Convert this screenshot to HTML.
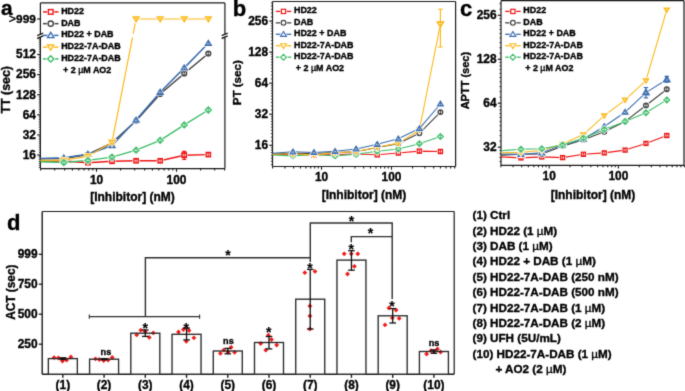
<!DOCTYPE html>
<html><head><meta charset="utf-8"><style>
html,body{margin:0;padding:0;background:#fff;width:685px;height:391px;overflow:hidden}
svg{display:block}
</style></head><body><div id="w">
<svg width="685" height="391" viewBox="0 0 685 391">
<defs><filter id="bl" color-interpolation-filters="sRGB" x="0" y="0" width="685" height="391" filterUnits="userSpaceOnUse"><feConvolveMatrix order="3" kernelMatrix="0.0169 0.0962 0.0169 0.0962 0.5476 0.0962 0.0169 0.0962 0.0169" divisor="1" edgeMode="duplicate" preserveAlpha="true"/></filter></defs>
<rect width="685" height="391" fill="#fff"/>
<g filter="url(#bl)">
<rect width="685" height="391" fill="#fff"/>
<line x1="40.40" y1="2.90" x2="224.90" y2="2.90" stroke="#1a1a1a" stroke-width="1.2" />
<line x1="40.40" y1="168.60" x2="224.90" y2="168.60" stroke="#1a1a1a" stroke-width="1.2" />
<line x1="224.90" y1="2.90" x2="224.90" y2="168.60" stroke="#1a1a1a" stroke-width="1.2" />
<line x1="40.40" y1="2.90" x2="40.40" y2="168.60" stroke="#1a1a1a" stroke-width="1.2" />
<polygon points="37.20,35.70 43.20,33.10 43.20,35.90 37.20,38.50" fill="#fff"/>
<line x1="37.20" y1="35.70" x2="43.20" y2="33.10" stroke="#1a1a1a" stroke-width="1.4" />
<line x1="37.20" y1="38.50" x2="43.20" y2="35.90" stroke="#1a1a1a" stroke-width="1.4" />
<polygon points="221.70,35.70 227.70,33.10 227.70,35.90 221.70,38.50" fill="#fff"/>
<line x1="221.70" y1="35.70" x2="227.70" y2="33.10" stroke="#1a1a1a" stroke-width="1.4" />
<line x1="221.70" y1="38.50" x2="227.70" y2="35.90" stroke="#1a1a1a" stroke-width="1.4" />
<line x1="38.80" y1="167.49" x2="40.40" y2="167.49" stroke="#1a1a1a" stroke-width="0.8" />
<line x1="38.80" y1="165.34" x2="40.40" y2="165.34" stroke="#1a1a1a" stroke-width="0.8" />
<line x1="38.80" y1="163.34" x2="40.40" y2="163.34" stroke="#1a1a1a" stroke-width="0.8" />
<line x1="38.80" y1="161.47" x2="40.40" y2="161.47" stroke="#1a1a1a" stroke-width="0.8" />
<line x1="38.80" y1="159.71" x2="40.40" y2="159.71" stroke="#1a1a1a" stroke-width="0.8" />
<line x1="38.80" y1="158.06" x2="40.40" y2="158.06" stroke="#1a1a1a" stroke-width="0.8" />
<line x1="38.80" y1="156.49" x2="40.40" y2="156.49" stroke="#1a1a1a" stroke-width="0.8" />
<line x1="38.80" y1="152.24" x2="40.40" y2="152.24" stroke="#1a1a1a" stroke-width="0.8" />
<line x1="38.80" y1="149.71" x2="40.40" y2="149.71" stroke="#1a1a1a" stroke-width="0.8" />
<line x1="38.80" y1="147.39" x2="40.40" y2="147.39" stroke="#1a1a1a" stroke-width="0.8" />
<line x1="38.80" y1="145.24" x2="40.40" y2="145.24" stroke="#1a1a1a" stroke-width="0.8" />
<line x1="38.80" y1="143.24" x2="40.40" y2="143.24" stroke="#1a1a1a" stroke-width="0.8" />
<line x1="38.80" y1="141.37" x2="40.40" y2="141.37" stroke="#1a1a1a" stroke-width="0.8" />
<line x1="38.80" y1="139.61" x2="40.40" y2="139.61" stroke="#1a1a1a" stroke-width="0.8" />
<line x1="38.80" y1="137.96" x2="40.40" y2="137.96" stroke="#1a1a1a" stroke-width="0.8" />
<line x1="38.80" y1="136.39" x2="40.40" y2="136.39" stroke="#1a1a1a" stroke-width="0.8" />
<line x1="38.80" y1="132.14" x2="40.40" y2="132.14" stroke="#1a1a1a" stroke-width="0.8" />
<line x1="38.80" y1="129.61" x2="40.40" y2="129.61" stroke="#1a1a1a" stroke-width="0.8" />
<line x1="38.80" y1="127.29" x2="40.40" y2="127.29" stroke="#1a1a1a" stroke-width="0.8" />
<line x1="38.80" y1="125.14" x2="40.40" y2="125.14" stroke="#1a1a1a" stroke-width="0.8" />
<line x1="38.80" y1="123.14" x2="40.40" y2="123.14" stroke="#1a1a1a" stroke-width="0.8" />
<line x1="38.80" y1="121.27" x2="40.40" y2="121.27" stroke="#1a1a1a" stroke-width="0.8" />
<line x1="38.80" y1="119.51" x2="40.40" y2="119.51" stroke="#1a1a1a" stroke-width="0.8" />
<line x1="38.80" y1="117.86" x2="40.40" y2="117.86" stroke="#1a1a1a" stroke-width="0.8" />
<line x1="38.80" y1="116.29" x2="40.40" y2="116.29" stroke="#1a1a1a" stroke-width="0.8" />
<line x1="38.80" y1="112.04" x2="40.40" y2="112.04" stroke="#1a1a1a" stroke-width="0.8" />
<line x1="38.80" y1="109.51" x2="40.40" y2="109.51" stroke="#1a1a1a" stroke-width="0.8" />
<line x1="38.80" y1="107.19" x2="40.40" y2="107.19" stroke="#1a1a1a" stroke-width="0.8" />
<line x1="38.80" y1="105.04" x2="40.40" y2="105.04" stroke="#1a1a1a" stroke-width="0.8" />
<line x1="38.80" y1="103.04" x2="40.40" y2="103.04" stroke="#1a1a1a" stroke-width="0.8" />
<line x1="38.80" y1="101.17" x2="40.40" y2="101.17" stroke="#1a1a1a" stroke-width="0.8" />
<line x1="38.80" y1="99.41" x2="40.40" y2="99.41" stroke="#1a1a1a" stroke-width="0.8" />
<line x1="38.80" y1="97.76" x2="40.40" y2="97.76" stroke="#1a1a1a" stroke-width="0.8" />
<line x1="38.80" y1="96.19" x2="40.40" y2="96.19" stroke="#1a1a1a" stroke-width="0.8" />
<line x1="38.80" y1="91.94" x2="40.40" y2="91.94" stroke="#1a1a1a" stroke-width="0.8" />
<line x1="38.80" y1="89.41" x2="40.40" y2="89.41" stroke="#1a1a1a" stroke-width="0.8" />
<line x1="38.80" y1="87.09" x2="40.40" y2="87.09" stroke="#1a1a1a" stroke-width="0.8" />
<line x1="38.80" y1="84.94" x2="40.40" y2="84.94" stroke="#1a1a1a" stroke-width="0.8" />
<line x1="38.80" y1="82.94" x2="40.40" y2="82.94" stroke="#1a1a1a" stroke-width="0.8" />
<line x1="38.80" y1="81.07" x2="40.40" y2="81.07" stroke="#1a1a1a" stroke-width="0.8" />
<line x1="38.80" y1="79.31" x2="40.40" y2="79.31" stroke="#1a1a1a" stroke-width="0.8" />
<line x1="38.80" y1="77.66" x2="40.40" y2="77.66" stroke="#1a1a1a" stroke-width="0.8" />
<line x1="38.80" y1="76.09" x2="40.40" y2="76.09" stroke="#1a1a1a" stroke-width="0.8" />
<line x1="38.80" y1="71.84" x2="40.40" y2="71.84" stroke="#1a1a1a" stroke-width="0.8" />
<line x1="38.80" y1="69.31" x2="40.40" y2="69.31" stroke="#1a1a1a" stroke-width="0.8" />
<line x1="38.80" y1="66.99" x2="40.40" y2="66.99" stroke="#1a1a1a" stroke-width="0.8" />
<line x1="38.80" y1="64.84" x2="40.40" y2="64.84" stroke="#1a1a1a" stroke-width="0.8" />
<line x1="38.80" y1="62.84" x2="40.40" y2="62.84" stroke="#1a1a1a" stroke-width="0.8" />
<line x1="38.80" y1="60.97" x2="40.40" y2="60.97" stroke="#1a1a1a" stroke-width="0.8" />
<line x1="38.80" y1="59.21" x2="40.40" y2="59.21" stroke="#1a1a1a" stroke-width="0.8" />
<line x1="38.80" y1="57.56" x2="40.40" y2="57.56" stroke="#1a1a1a" stroke-width="0.8" />
<line x1="38.80" y1="55.99" x2="40.40" y2="55.99" stroke="#1a1a1a" stroke-width="0.8" />
<line x1="38.80" y1="51.74" x2="40.40" y2="51.74" stroke="#1a1a1a" stroke-width="0.8" />
<line x1="38.80" y1="49.21" x2="40.40" y2="49.21" stroke="#1a1a1a" stroke-width="0.8" />
<line x1="38.80" y1="46.89" x2="40.40" y2="46.89" stroke="#1a1a1a" stroke-width="0.8" />
<line x1="38.80" y1="44.74" x2="40.40" y2="44.74" stroke="#1a1a1a" stroke-width="0.8" />
<line x1="38.80" y1="42.74" x2="40.40" y2="42.74" stroke="#1a1a1a" stroke-width="0.8" />
<line x1="38.80" y1="40.87" x2="40.40" y2="40.87" stroke="#1a1a1a" stroke-width="0.8" />
<line x1="38.80" y1="39.11" x2="40.40" y2="39.11" stroke="#1a1a1a" stroke-width="0.8" />
<line x1="37.20" y1="155.00" x2="40.40" y2="155.00" stroke="#1a1a1a" stroke-width="1.2" />
<text x="35.90" y="158.80" font-family="Liberation Sans" font-weight="bold" font-size="11.9" text-anchor="end" fill="#000" stroke="#000" stroke-width="0.35" >16</text>
<line x1="37.20" y1="134.90" x2="40.40" y2="134.90" stroke="#1a1a1a" stroke-width="1.2" />
<text x="35.90" y="138.70" font-family="Liberation Sans" font-weight="bold" font-size="11.9" text-anchor="end" fill="#000" stroke="#000" stroke-width="0.35" >32</text>
<line x1="37.20" y1="114.80" x2="40.40" y2="114.80" stroke="#1a1a1a" stroke-width="1.2" />
<text x="35.90" y="118.60" font-family="Liberation Sans" font-weight="bold" font-size="11.9" text-anchor="end" fill="#000" stroke="#000" stroke-width="0.35" >64</text>
<line x1="37.20" y1="94.70" x2="40.40" y2="94.70" stroke="#1a1a1a" stroke-width="1.2" />
<text x="35.90" y="98.50" font-family="Liberation Sans" font-weight="bold" font-size="11.9" text-anchor="end" fill="#000" stroke="#000" stroke-width="0.35" >128</text>
<line x1="37.20" y1="74.60" x2="40.40" y2="74.60" stroke="#1a1a1a" stroke-width="1.2" />
<text x="35.90" y="78.40" font-family="Liberation Sans" font-weight="bold" font-size="11.9" text-anchor="end" fill="#000" stroke="#000" stroke-width="0.35" >256</text>
<line x1="37.20" y1="54.50" x2="40.40" y2="54.50" stroke="#1a1a1a" stroke-width="1.2" />
<text x="35.90" y="58.30" font-family="Liberation Sans" font-weight="bold" font-size="11.9" text-anchor="end" fill="#000" stroke="#000" stroke-width="0.35" >512</text>
<line x1="37.20" y1="19.00" x2="40.40" y2="19.00" stroke="#1a1a1a" stroke-width="1.2" />
<text x="35.80" y="22.60" font-family="Liberation Sans" font-weight="bold" font-size="11.8" text-anchor="end" fill="#000" stroke="#000" stroke-width="0.35" ><tspan font-weight="normal" font-size="12.5">&gt;</tspan>999</text>
<line x1="40.58" y1="168.60" x2="40.58" y2="170.60" stroke="#1a1a1a" stroke-width="1.1" />
<line x1="54.67" y1="168.60" x2="54.67" y2="170.60" stroke="#1a1a1a" stroke-width="1.1" />
<line x1="64.66" y1="168.60" x2="64.66" y2="170.60" stroke="#1a1a1a" stroke-width="1.1" />
<line x1="72.42" y1="168.60" x2="72.42" y2="170.60" stroke="#1a1a1a" stroke-width="1.1" />
<line x1="78.75" y1="168.60" x2="78.75" y2="170.60" stroke="#1a1a1a" stroke-width="1.1" />
<line x1="84.11" y1="168.60" x2="84.11" y2="170.60" stroke="#1a1a1a" stroke-width="1.1" />
<line x1="88.75" y1="168.60" x2="88.75" y2="170.60" stroke="#1a1a1a" stroke-width="1.1" />
<line x1="92.84" y1="168.60" x2="92.84" y2="170.60" stroke="#1a1a1a" stroke-width="1.1" />
<line x1="96.50" y1="168.60" x2="96.50" y2="171.80" stroke="#1a1a1a" stroke-width="1.1" />
<line x1="120.58" y1="168.60" x2="120.58" y2="170.60" stroke="#1a1a1a" stroke-width="1.1" />
<line x1="134.67" y1="168.60" x2="134.67" y2="170.60" stroke="#1a1a1a" stroke-width="1.1" />
<line x1="144.66" y1="168.60" x2="144.66" y2="170.60" stroke="#1a1a1a" stroke-width="1.1" />
<line x1="152.42" y1="168.60" x2="152.42" y2="170.60" stroke="#1a1a1a" stroke-width="1.1" />
<line x1="158.75" y1="168.60" x2="158.75" y2="170.60" stroke="#1a1a1a" stroke-width="1.1" />
<line x1="164.11" y1="168.60" x2="164.11" y2="170.60" stroke="#1a1a1a" stroke-width="1.1" />
<line x1="168.75" y1="168.60" x2="168.75" y2="170.60" stroke="#1a1a1a" stroke-width="1.1" />
<line x1="172.84" y1="168.60" x2="172.84" y2="170.60" stroke="#1a1a1a" stroke-width="1.1" />
<line x1="176.50" y1="168.60" x2="176.50" y2="171.80" stroke="#1a1a1a" stroke-width="1.1" />
<line x1="200.58" y1="168.60" x2="200.58" y2="170.60" stroke="#1a1a1a" stroke-width="1.1" />
<line x1="214.67" y1="168.60" x2="214.67" y2="170.60" stroke="#1a1a1a" stroke-width="1.1" />
<line x1="224.66" y1="168.60" x2="224.66" y2="170.60" stroke="#1a1a1a" stroke-width="1.1" />
<text x="96.50" y="184.00" font-family="Liberation Sans" font-weight="bold" font-size="11.9" text-anchor="middle" fill="#000" stroke="#000" stroke-width="0.35" >10</text>
<text x="176.50" y="184.00" font-family="Liberation Sans" font-weight="bold" font-size="11.9" text-anchor="middle" fill="#000" stroke="#000" stroke-width="0.35" >100</text>
<text x="132.50" y="200.50" font-family="Liberation Sans" font-weight="bold" font-size="12" text-anchor="middle" fill="#000" stroke="#000" stroke-width="0.35" >[Inhibitor] (nM)</text>
<text x="10.20" y="89.80" font-family="Liberation Sans" font-weight="bold" font-size="12.4" text-anchor="middle" fill="#000" stroke="#000" stroke-width="0.35" transform="rotate(-90 10.2 89.8)">TT (sec)</text>
<text x="0.90" y="15.00" font-family="Liberation Sans" font-weight="bold" font-size="20.8" text-anchor="start" fill="#000" stroke="#000" stroke-width="0.35" >a</text>
<line x1="43.00" y1="11.90" x2="58.50" y2="11.90" stroke="#ee1515" stroke-width="1.5" />
<rect x="48.36" y="9.56" width="4.67" height="4.67" fill="#fff" stroke="#fff" stroke-width="2.60"/>
<rect x="48.36" y="9.56" width="4.67" height="4.67" fill="#fff" stroke="#ee1515" stroke-width="1.4"/>
<text x="61.15" y="13.85" font-family="Liberation Sans" font-weight="bold" font-size="8.95" text-anchor="start" fill="#000" stroke="#000" stroke-width="0.35" >HD22</text>
<line x1="43.00" y1="23.65" x2="58.50" y2="23.65" stroke="#404040" stroke-width="1.5" />
<circle cx="50.70" cy="23.65" r="2.61" fill="#fff" stroke="#fff" stroke-width="2.60"/>
<circle cx="50.70" cy="23.65" r="2.61" fill="#fff" stroke="#404040" stroke-width="1.4"/>
<text x="61.15" y="25.60" font-family="Liberation Sans" font-weight="bold" font-size="8.95" text-anchor="start" fill="#000" stroke="#000" stroke-width="0.35" >DAB</text>
<line x1="43.00" y1="35.40" x2="58.50" y2="35.40" stroke="#3b6caf" stroke-width="1.5" />
<polygon points="50.70,32.38 53.86,37.60 47.54,37.60" fill="#fff" stroke="#fff" stroke-width="2.60"/>
<polygon points="50.70,32.38 53.86,37.60 47.54,37.60" fill="#fff" stroke="#3b6caf" stroke-width="1.4"/>
<text x="61.15" y="37.35" font-family="Liberation Sans" font-weight="bold" font-size="8.95" text-anchor="start" fill="#000" stroke="#000" stroke-width="0.35" >HD22 + DAB</text>
<line x1="43.00" y1="47.15" x2="58.50" y2="47.15" stroke="#fbba1c" stroke-width="1.5" />
<polygon points="50.70,50.17 53.86,44.95 47.54,44.95" fill="#fff" stroke="#fff" stroke-width="2.60"/>
<polygon points="50.70,50.17 53.86,44.95 47.54,44.95" fill="#fff" stroke="#fbba1c" stroke-width="1.4"/>
<text x="61.15" y="49.10" font-family="Liberation Sans" font-weight="bold" font-size="8.95" text-anchor="start" fill="#000" stroke="#000" stroke-width="0.35" >HD22-7A-DAB</text>
<line x1="43.00" y1="58.90" x2="58.50" y2="58.90" stroke="#3dbd68" stroke-width="1.5" />
<polygon points="50.70,55.74 53.86,58.90 50.70,62.06 47.54,58.90" fill="#fff" stroke="#fff" stroke-width="2.60"/>
<polygon points="50.70,55.74 53.86,58.90 50.70,62.06 47.54,58.90" fill="#fff" stroke="#3dbd68" stroke-width="1.4"/>
<text x="61.15" y="60.85" font-family="Liberation Sans" font-weight="bold" font-size="8.95" text-anchor="start" fill="#000" stroke="#000" stroke-width="0.35" >HD22-7A-DAB</text>
<text x="63.00" y="72.55" font-family="Liberation Sans" font-weight="bold" font-size="8.95" text-anchor="start" fill="#000" stroke="#000" stroke-width="0.35" >+ 2 <tspan font-weight="normal">µ</tspan>M AO2</text>
<polyline points="40.40,161.00 63.84,161.00 87.92,162.70 112.01,161.30 136.09,160.80 160.17,160.80 184.25,155.20 208.34,154.60" fill="none" stroke="#ee1515" stroke-width="1.4" stroke-linejoin="round"/>
<rect x="61.67" y="158.83" width="4.33" height="4.33" fill="#fff" stroke="#fff" stroke-width="2.75"/>
<rect x="61.67" y="158.83" width="4.33" height="4.33" fill="#fff" stroke="#ee1515" stroke-width="1.35"/>
<path d="M63.84,159.60V162.40M62.44,159.60H65.24M62.44,162.40H65.24" stroke="#ee1515" stroke-width="0.9" fill="none"/>
<rect x="85.76" y="160.53" width="4.33" height="4.33" fill="#fff" stroke="#fff" stroke-width="2.75"/>
<rect x="85.76" y="160.53" width="4.33" height="4.33" fill="#fff" stroke="#ee1515" stroke-width="1.35"/>
<path d="M87.92,161.30V164.10M86.52,161.30H89.33M86.52,164.10H89.33" stroke="#ee1515" stroke-width="0.9" fill="none"/>
<rect x="109.84" y="159.13" width="4.33" height="4.33" fill="#fff" stroke="#fff" stroke-width="2.75"/>
<rect x="109.84" y="159.13" width="4.33" height="4.33" fill="#fff" stroke="#ee1515" stroke-width="1.35"/>
<path d="M112.01,159.90V162.70M110.60,159.90H113.41M110.60,162.70H113.41" stroke="#ee1515" stroke-width="0.9" fill="none"/>
<rect x="133.92" y="158.63" width="4.33" height="4.33" fill="#fff" stroke="#fff" stroke-width="2.75"/>
<rect x="133.92" y="158.63" width="4.33" height="4.33" fill="#fff" stroke="#ee1515" stroke-width="1.35"/>
<path d="M136.09,159.40V162.20M134.69,159.40H137.49M134.69,162.20H137.49" stroke="#ee1515" stroke-width="0.9" fill="none"/>
<rect x="158.00" y="158.63" width="4.33" height="4.33" fill="#fff" stroke="#fff" stroke-width="2.75"/>
<rect x="158.00" y="158.63" width="4.33" height="4.33" fill="#fff" stroke="#ee1515" stroke-width="1.35"/>
<path d="M160.17,159.40V162.20M158.77,159.40H161.57M158.77,162.20H161.57" stroke="#ee1515" stroke-width="0.9" fill="none"/>
<rect x="182.09" y="153.03" width="4.33" height="4.33" fill="#fff" stroke="#fff" stroke-width="2.75"/>
<rect x="182.09" y="153.03" width="4.33" height="4.33" fill="#fff" stroke="#ee1515" stroke-width="1.35"/>
<path d="M184.25,153.80V156.60M182.85,153.80H185.66M182.85,156.60H185.66" stroke="#ee1515" stroke-width="0.9" fill="none"/>
<rect x="206.17" y="152.43" width="4.33" height="4.33" fill="#fff" stroke="#fff" stroke-width="2.75"/>
<rect x="206.17" y="152.43" width="4.33" height="4.33" fill="#fff" stroke="#ee1515" stroke-width="1.35"/>
<path d="M208.34,153.20V156.00M206.93,153.20H209.74M206.93,156.00H209.74" stroke="#ee1515" stroke-width="0.9" fill="none"/>
<line x1="184.25" y1="151.40" x2="184.25" y2="159.40" stroke="#ee1515" stroke-width="1.3" />
<line x1="182.25" y1="151.40" x2="186.25" y2="151.40" stroke="#ee1515" stroke-width="1.3" />
<line x1="182.25" y1="159.40" x2="186.25" y2="159.40" stroke="#ee1515" stroke-width="1.3" />
<rect x="182.09" y="153.03" width="4.33" height="4.33" fill="#fff" stroke="#ee1515" stroke-width="1.35"/>
<path d="M184.25,153.80V156.60M182.85,153.80H185.66M182.85,156.60H185.66" stroke="#ee1515" stroke-width="0.9" fill="none"/>
<polyline points="40.40,158.80 63.84,158.50 87.92,154.50 112.01,142.80 136.09,120.80 160.17,94.00 184.25,73.50 208.34,53.50" fill="none" stroke="#404040" stroke-width="1.5" stroke-linejoin="round"/>
<circle cx="63.84" cy="158.50" r="2.42" fill="#fff" stroke="#fff" stroke-width="2.75"/>
<circle cx="63.84" cy="158.50" r="2.42" fill="#fff" stroke="#404040" stroke-width="1.35"/>
<path d="M63.84,157.10V159.90M62.44,157.10H65.24M62.44,159.90H65.24" stroke="#404040" stroke-width="0.9" fill="none"/>
<circle cx="87.92" cy="154.50" r="2.42" fill="#fff" stroke="#fff" stroke-width="2.75"/>
<circle cx="87.92" cy="154.50" r="2.42" fill="#fff" stroke="#404040" stroke-width="1.35"/>
<path d="M87.92,153.10V155.90M86.52,153.10H89.33M86.52,155.90H89.33" stroke="#404040" stroke-width="0.9" fill="none"/>
<circle cx="112.01" cy="142.80" r="2.42" fill="#fff" stroke="#fff" stroke-width="2.75"/>
<circle cx="112.01" cy="142.80" r="2.42" fill="#fff" stroke="#404040" stroke-width="1.35"/>
<path d="M112.01,141.40V144.20M110.60,141.40H113.41M110.60,144.20H113.41" stroke="#404040" stroke-width="0.9" fill="none"/>
<circle cx="136.09" cy="120.80" r="2.42" fill="#fff" stroke="#fff" stroke-width="2.75"/>
<circle cx="136.09" cy="120.80" r="2.42" fill="#fff" stroke="#404040" stroke-width="1.35"/>
<path d="M136.09,119.40V122.20M134.69,119.40H137.49M134.69,122.20H137.49" stroke="#404040" stroke-width="0.9" fill="none"/>
<circle cx="160.17" cy="94.00" r="2.42" fill="#fff" stroke="#fff" stroke-width="2.75"/>
<circle cx="160.17" cy="94.00" r="2.42" fill="#fff" stroke="#404040" stroke-width="1.35"/>
<path d="M160.17,92.60V95.40M158.77,92.60H161.57M158.77,95.40H161.57" stroke="#404040" stroke-width="0.9" fill="none"/>
<circle cx="184.25" cy="73.50" r="2.42" fill="#fff" stroke="#fff" stroke-width="2.75"/>
<circle cx="184.25" cy="73.50" r="2.42" fill="#fff" stroke="#404040" stroke-width="1.35"/>
<path d="M184.25,72.10V74.90M182.85,72.10H185.66M182.85,74.90H185.66" stroke="#404040" stroke-width="0.9" fill="none"/>
<circle cx="208.34" cy="53.50" r="2.42" fill="#fff" stroke="#fff" stroke-width="2.75"/>
<circle cx="208.34" cy="53.50" r="2.42" fill="#fff" stroke="#404040" stroke-width="1.35"/>
<path d="M208.34,52.10V54.90M206.93,52.10H209.74M206.93,54.90H209.74" stroke="#404040" stroke-width="0.9" fill="none"/>
<polyline points="40.40,158.40 63.84,157.80 87.92,154.20 112.01,145.50 136.09,120.10 160.17,92.20 184.25,67.90 208.34,43.30" fill="none" stroke="#3b6caf" stroke-width="1.5" stroke-linejoin="round"/>
<polygon points="63.84,155.00 66.77,159.84 60.91,159.84" fill="#fff" stroke="#fff" stroke-width="2.75"/>
<polygon points="63.84,155.00 66.77,159.84 60.91,159.84" fill="#fff" stroke="#3b6caf" stroke-width="1.35"/>
<path d="M63.84,156.40V159.20M62.44,156.40H65.24M62.44,159.20H65.24" stroke="#3b6caf" stroke-width="0.9" fill="none"/>
<polygon points="87.92,151.39 90.86,156.24 84.99,156.24" fill="#fff" stroke="#fff" stroke-width="2.75"/>
<polygon points="87.92,151.39 90.86,156.24 84.99,156.24" fill="#fff" stroke="#3b6caf" stroke-width="1.35"/>
<path d="M87.92,152.80V155.60M86.52,152.80H89.33M86.52,155.60H89.33" stroke="#3b6caf" stroke-width="0.9" fill="none"/>
<polygon points="112.01,142.69 114.94,147.54 109.07,147.54" fill="#fff" stroke="#fff" stroke-width="2.75"/>
<polygon points="112.01,142.69 114.94,147.54 109.07,147.54" fill="#fff" stroke="#3b6caf" stroke-width="1.35"/>
<path d="M112.01,144.10V146.90M110.60,144.10H113.41M110.60,146.90H113.41" stroke="#3b6caf" stroke-width="0.9" fill="none"/>
<polygon points="136.09,117.29 139.02,122.14 133.16,122.14" fill="#fff" stroke="#fff" stroke-width="2.75"/>
<polygon points="136.09,117.29 139.02,122.14 133.16,122.14" fill="#fff" stroke="#3b6caf" stroke-width="1.35"/>
<path d="M136.09,118.70V121.50M134.69,118.70H137.49M134.69,121.50H137.49" stroke="#3b6caf" stroke-width="0.9" fill="none"/>
<polygon points="160.17,89.39 163.10,94.24 157.24,94.24" fill="#fff" stroke="#fff" stroke-width="2.75"/>
<polygon points="160.17,89.39 163.10,94.24 157.24,94.24" fill="#fff" stroke="#3b6caf" stroke-width="1.35"/>
<path d="M160.17,90.80V93.60M158.77,90.80H161.57M158.77,93.60H161.57" stroke="#3b6caf" stroke-width="0.9" fill="none"/>
<polygon points="184.25,65.09 187.19,69.94 181.32,69.94" fill="#fff" stroke="#fff" stroke-width="2.75"/>
<polygon points="184.25,65.09 187.19,69.94 181.32,69.94" fill="#fff" stroke="#3b6caf" stroke-width="1.35"/>
<path d="M184.25,66.50V69.30M182.85,66.50H185.66M182.85,69.30H185.66" stroke="#3b6caf" stroke-width="0.9" fill="none"/>
<polygon points="208.34,40.49 211.27,45.34 205.40,45.34" fill="#fff" stroke="#fff" stroke-width="2.75"/>
<polygon points="208.34,40.49 211.27,45.34 205.40,45.34" fill="#fff" stroke="#3b6caf" stroke-width="1.35"/>
<path d="M208.34,41.90V44.70M206.93,41.90H209.74M206.93,44.70H209.74" stroke="#3b6caf" stroke-width="0.9" fill="none"/>
<polyline points="40.40,160.40 63.84,160.10 87.92,156.30 112.01,142.30" fill="none" stroke="#fbba1c" stroke-width="1.2" stroke-linejoin="round"/>
<polyline points="112.01,142.30 132.51,37.30" fill="none" stroke="#fbba1c" stroke-width="1.2" stroke-linejoin="round"/>
<polyline points="133.22,33.70 136.09,19.00" fill="none" stroke="#fbba1c" stroke-width="1.2" stroke-linejoin="round"/>
<polyline points="136.09,19.00 160.17,19.00 184.25,19.00 208.34,19.00" fill="none" stroke="#fbba1c" stroke-width="1.2" stroke-linejoin="round"/>
<polygon points="63.84,162.91 66.77,158.06 60.91,158.06" fill="#fff" stroke="#fff" stroke-width="2.75"/>
<polygon points="63.84,162.91 66.77,158.06 60.91,158.06" fill="#fff" stroke="#fbba1c" stroke-width="1.35"/>
<path d="M63.84,158.70V161.50M62.44,158.70H65.24M62.44,161.50H65.24" stroke="#fbba1c" stroke-width="0.9" fill="none"/>
<polygon points="87.92,159.11 90.86,154.26 84.99,154.26" fill="#fff" stroke="#fff" stroke-width="2.75"/>
<polygon points="87.92,159.11 90.86,154.26 84.99,154.26" fill="#fff" stroke="#fbba1c" stroke-width="1.35"/>
<path d="M87.92,154.90V157.70M86.52,154.90H89.33M86.52,157.70H89.33" stroke="#fbba1c" stroke-width="0.9" fill="none"/>
<polygon points="112.01,145.11 114.94,140.26 109.07,140.26" fill="#fff" stroke="#fff" stroke-width="2.75"/>
<polygon points="112.01,145.11 114.94,140.26 109.07,140.26" fill="#fff" stroke="#fbba1c" stroke-width="1.35"/>
<path d="M112.01,140.90V143.70M110.60,140.90H113.41M110.60,143.70H113.41" stroke="#fbba1c" stroke-width="0.9" fill="none"/>
<polygon points="136.09,21.80 139.02,16.96 133.16,16.96" fill="#fff" stroke="#fff" stroke-width="2.75"/>
<polygon points="136.09,21.80 139.02,16.96 133.16,16.96" fill="#fff" stroke="#fbba1c" stroke-width="1.35"/>
<path d="M136.09,17.60V20.40M134.69,17.60H137.49M134.69,20.40H137.49" stroke="#fbba1c" stroke-width="0.9" fill="none"/>
<polygon points="160.17,21.80 163.10,16.96 157.24,16.96" fill="#fff" stroke="#fff" stroke-width="2.75"/>
<polygon points="160.17,21.80 163.10,16.96 157.24,16.96" fill="#fff" stroke="#fbba1c" stroke-width="1.35"/>
<path d="M160.17,17.60V20.40M158.77,17.60H161.57M158.77,20.40H161.57" stroke="#fbba1c" stroke-width="0.9" fill="none"/>
<polygon points="184.25,21.80 187.19,16.96 181.32,16.96" fill="#fff" stroke="#fff" stroke-width="2.75"/>
<polygon points="184.25,21.80 187.19,16.96 181.32,16.96" fill="#fff" stroke="#fbba1c" stroke-width="1.35"/>
<path d="M184.25,17.60V20.40M182.85,17.60H185.66M182.85,20.40H185.66" stroke="#fbba1c" stroke-width="0.9" fill="none"/>
<polygon points="208.34,21.80 211.27,16.96 205.40,16.96" fill="#fff" stroke="#fff" stroke-width="2.75"/>
<polygon points="208.34,21.80 211.27,16.96 205.40,16.96" fill="#fff" stroke="#fbba1c" stroke-width="1.35"/>
<path d="M208.34,17.60V20.40M206.93,17.60H209.74M206.93,20.40H209.74" stroke="#fbba1c" stroke-width="0.9" fill="none"/>
<polyline points="40.40,161.80 63.84,162.50 87.92,160.40 112.01,157.10 136.09,150.20 160.17,140.30 184.25,124.90 208.34,110.00" fill="none" stroke="#3dbd68" stroke-width="1.4" stroke-linejoin="round"/>
<polygon points="63.84,159.57 66.77,162.50 63.84,165.43 60.91,162.50" fill="#fff" stroke="#fff" stroke-width="2.75"/>
<polygon points="63.84,159.57 66.77,162.50 63.84,165.43 60.91,162.50" fill="#fff" stroke="#3dbd68" stroke-width="1.35"/>
<path d="M63.84,161.10V163.90M62.44,161.10H65.24M62.44,163.90H65.24" stroke="#3dbd68" stroke-width="0.9" fill="none"/>
<polygon points="87.92,157.47 90.86,160.40 87.92,163.33 84.99,160.40" fill="#fff" stroke="#fff" stroke-width="2.75"/>
<polygon points="87.92,157.47 90.86,160.40 87.92,163.33 84.99,160.40" fill="#fff" stroke="#3dbd68" stroke-width="1.35"/>
<path d="M87.92,159.00V161.80M86.52,159.00H89.33M86.52,161.80H89.33" stroke="#3dbd68" stroke-width="0.9" fill="none"/>
<polygon points="112.01,154.17 114.94,157.10 112.01,160.03 109.07,157.10" fill="#fff" stroke="#fff" stroke-width="2.75"/>
<polygon points="112.01,154.17 114.94,157.10 112.01,160.03 109.07,157.10" fill="#fff" stroke="#3dbd68" stroke-width="1.35"/>
<path d="M112.01,155.70V158.50M110.60,155.70H113.41M110.60,158.50H113.41" stroke="#3dbd68" stroke-width="0.9" fill="none"/>
<polygon points="136.09,147.27 139.02,150.20 136.09,153.13 133.16,150.20" fill="#fff" stroke="#fff" stroke-width="2.75"/>
<polygon points="136.09,147.27 139.02,150.20 136.09,153.13 133.16,150.20" fill="#fff" stroke="#3dbd68" stroke-width="1.35"/>
<path d="M136.09,148.80V151.60M134.69,148.80H137.49M134.69,151.60H137.49" stroke="#3dbd68" stroke-width="0.9" fill="none"/>
<polygon points="160.17,137.37 163.10,140.30 160.17,143.23 157.24,140.30" fill="#fff" stroke="#fff" stroke-width="2.75"/>
<polygon points="160.17,137.37 163.10,140.30 160.17,143.23 157.24,140.30" fill="#fff" stroke="#3dbd68" stroke-width="1.35"/>
<path d="M160.17,138.90V141.70M158.77,138.90H161.57M158.77,141.70H161.57" stroke="#3dbd68" stroke-width="0.9" fill="none"/>
<polygon points="184.25,121.97 187.19,124.90 184.25,127.83 181.32,124.90" fill="#fff" stroke="#fff" stroke-width="2.75"/>
<polygon points="184.25,121.97 187.19,124.90 184.25,127.83 181.32,124.90" fill="#fff" stroke="#3dbd68" stroke-width="1.35"/>
<path d="M184.25,123.50V126.30M182.85,123.50H185.66M182.85,126.30H185.66" stroke="#3dbd68" stroke-width="0.9" fill="none"/>
<polygon points="208.34,107.07 211.27,110.00 208.34,112.93 205.40,110.00" fill="#fff" stroke="#fff" stroke-width="2.75"/>
<polygon points="208.34,107.07 211.27,110.00 208.34,112.93 205.40,110.00" fill="#fff" stroke="#3dbd68" stroke-width="1.35"/>
<path d="M208.34,108.60V111.40M206.93,108.60H209.74M206.93,111.40H209.74" stroke="#3dbd68" stroke-width="0.9" fill="none"/>
<line x1="272.50" y1="1.50" x2="455.60" y2="1.50" stroke="#1a1a1a" stroke-width="1.2" />
<line x1="272.50" y1="166.50" x2="455.60" y2="166.50" stroke="#1a1a1a" stroke-width="1.2" />
<line x1="455.60" y1="1.50" x2="455.60" y2="166.50" stroke="#1a1a1a" stroke-width="1.2" />
<line x1="272.50" y1="1.50" x2="272.50" y2="166.50" stroke="#1a1a1a" stroke-width="1.2" />
<line x1="270.90" y1="164.60" x2="272.50" y2="164.60" stroke="#1a1a1a" stroke-width="0.8" />
<line x1="270.90" y1="161.28" x2="272.50" y2="161.28" stroke="#1a1a1a" stroke-width="0.8" />
<line x1="270.90" y1="158.19" x2="272.50" y2="158.19" stroke="#1a1a1a" stroke-width="0.8" />
<line x1="270.90" y1="155.30" x2="272.50" y2="155.30" stroke="#1a1a1a" stroke-width="0.8" />
<line x1="270.90" y1="152.58" x2="272.50" y2="152.58" stroke="#1a1a1a" stroke-width="0.8" />
<line x1="270.90" y1="150.02" x2="272.50" y2="150.02" stroke="#1a1a1a" stroke-width="0.8" />
<line x1="270.90" y1="147.60" x2="272.50" y2="147.60" stroke="#1a1a1a" stroke-width="0.8" />
<line x1="270.90" y1="141.03" x2="272.50" y2="141.03" stroke="#1a1a1a" stroke-width="0.8" />
<line x1="270.90" y1="137.13" x2="272.50" y2="137.13" stroke="#1a1a1a" stroke-width="0.8" />
<line x1="270.90" y1="133.55" x2="272.50" y2="133.55" stroke="#1a1a1a" stroke-width="0.8" />
<line x1="270.90" y1="130.23" x2="272.50" y2="130.23" stroke="#1a1a1a" stroke-width="0.8" />
<line x1="270.90" y1="127.14" x2="272.50" y2="127.14" stroke="#1a1a1a" stroke-width="0.8" />
<line x1="270.90" y1="124.25" x2="272.50" y2="124.25" stroke="#1a1a1a" stroke-width="0.8" />
<line x1="270.90" y1="121.53" x2="272.50" y2="121.53" stroke="#1a1a1a" stroke-width="0.8" />
<line x1="270.90" y1="118.97" x2="272.50" y2="118.97" stroke="#1a1a1a" stroke-width="0.8" />
<line x1="270.90" y1="116.55" x2="272.50" y2="116.55" stroke="#1a1a1a" stroke-width="0.8" />
<line x1="270.90" y1="109.98" x2="272.50" y2="109.98" stroke="#1a1a1a" stroke-width="0.8" />
<line x1="270.90" y1="106.08" x2="272.50" y2="106.08" stroke="#1a1a1a" stroke-width="0.8" />
<line x1="270.90" y1="102.50" x2="272.50" y2="102.50" stroke="#1a1a1a" stroke-width="0.8" />
<line x1="270.90" y1="99.18" x2="272.50" y2="99.18" stroke="#1a1a1a" stroke-width="0.8" />
<line x1="270.90" y1="96.09" x2="272.50" y2="96.09" stroke="#1a1a1a" stroke-width="0.8" />
<line x1="270.90" y1="93.20" x2="272.50" y2="93.20" stroke="#1a1a1a" stroke-width="0.8" />
<line x1="270.90" y1="90.48" x2="272.50" y2="90.48" stroke="#1a1a1a" stroke-width="0.8" />
<line x1="270.90" y1="87.92" x2="272.50" y2="87.92" stroke="#1a1a1a" stroke-width="0.8" />
<line x1="270.90" y1="85.50" x2="272.50" y2="85.50" stroke="#1a1a1a" stroke-width="0.8" />
<line x1="270.90" y1="78.93" x2="272.50" y2="78.93" stroke="#1a1a1a" stroke-width="0.8" />
<line x1="270.90" y1="75.03" x2="272.50" y2="75.03" stroke="#1a1a1a" stroke-width="0.8" />
<line x1="270.90" y1="71.45" x2="272.50" y2="71.45" stroke="#1a1a1a" stroke-width="0.8" />
<line x1="270.90" y1="68.13" x2="272.50" y2="68.13" stroke="#1a1a1a" stroke-width="0.8" />
<line x1="270.90" y1="65.04" x2="272.50" y2="65.04" stroke="#1a1a1a" stroke-width="0.8" />
<line x1="270.90" y1="62.15" x2="272.50" y2="62.15" stroke="#1a1a1a" stroke-width="0.8" />
<line x1="270.90" y1="59.43" x2="272.50" y2="59.43" stroke="#1a1a1a" stroke-width="0.8" />
<line x1="270.90" y1="56.87" x2="272.50" y2="56.87" stroke="#1a1a1a" stroke-width="0.8" />
<line x1="270.90" y1="54.45" x2="272.50" y2="54.45" stroke="#1a1a1a" stroke-width="0.8" />
<line x1="270.90" y1="47.88" x2="272.50" y2="47.88" stroke="#1a1a1a" stroke-width="0.8" />
<line x1="270.90" y1="43.98" x2="272.50" y2="43.98" stroke="#1a1a1a" stroke-width="0.8" />
<line x1="270.90" y1="40.40" x2="272.50" y2="40.40" stroke="#1a1a1a" stroke-width="0.8" />
<line x1="270.90" y1="37.08" x2="272.50" y2="37.08" stroke="#1a1a1a" stroke-width="0.8" />
<line x1="270.90" y1="33.99" x2="272.50" y2="33.99" stroke="#1a1a1a" stroke-width="0.8" />
<line x1="270.90" y1="31.10" x2="272.50" y2="31.10" stroke="#1a1a1a" stroke-width="0.8" />
<line x1="270.90" y1="28.38" x2="272.50" y2="28.38" stroke="#1a1a1a" stroke-width="0.8" />
<line x1="270.90" y1="25.82" x2="272.50" y2="25.82" stroke="#1a1a1a" stroke-width="0.8" />
<line x1="270.90" y1="23.40" x2="272.50" y2="23.40" stroke="#1a1a1a" stroke-width="0.8" />
<line x1="270.90" y1="16.83" x2="272.50" y2="16.83" stroke="#1a1a1a" stroke-width="0.8" />
<line x1="270.90" y1="12.93" x2="272.50" y2="12.93" stroke="#1a1a1a" stroke-width="0.8" />
<line x1="270.90" y1="9.35" x2="272.50" y2="9.35" stroke="#1a1a1a" stroke-width="0.8" />
<line x1="270.90" y1="6.03" x2="272.50" y2="6.03" stroke="#1a1a1a" stroke-width="0.8" />
<line x1="270.90" y1="2.94" x2="272.50" y2="2.94" stroke="#1a1a1a" stroke-width="0.8" />
<line x1="269.30" y1="145.30" x2="272.50" y2="145.30" stroke="#1a1a1a" stroke-width="1.2" />
<text x="268.00" y="149.10" font-family="Liberation Sans" font-weight="bold" font-size="11.9" text-anchor="end" fill="#000" stroke="#000" stroke-width="0.35" >16</text>
<line x1="269.30" y1="114.25" x2="272.50" y2="114.25" stroke="#1a1a1a" stroke-width="1.2" />
<text x="268.00" y="118.05" font-family="Liberation Sans" font-weight="bold" font-size="11.9" text-anchor="end" fill="#000" stroke="#000" stroke-width="0.35" >32</text>
<line x1="269.30" y1="83.20" x2="272.50" y2="83.20" stroke="#1a1a1a" stroke-width="1.2" />
<text x="268.00" y="87.00" font-family="Liberation Sans" font-weight="bold" font-size="11.9" text-anchor="end" fill="#000" stroke="#000" stroke-width="0.35" >64</text>
<line x1="269.30" y1="52.15" x2="272.50" y2="52.15" stroke="#1a1a1a" stroke-width="1.2" />
<text x="268.00" y="55.95" font-family="Liberation Sans" font-weight="bold" font-size="11.9" text-anchor="end" fill="#000" stroke="#000" stroke-width="0.35" >128</text>
<line x1="269.30" y1="21.10" x2="272.50" y2="21.10" stroke="#1a1a1a" stroke-width="1.2" />
<text x="268.00" y="24.90" font-family="Liberation Sans" font-weight="bold" font-size="11.9" text-anchor="end" fill="#000" stroke="#000" stroke-width="0.35" >256</text>
<line x1="272.57" y1="166.50" x2="272.57" y2="168.50" stroke="#1a1a1a" stroke-width="1.1" />
<line x1="284.90" y1="166.50" x2="284.90" y2="168.50" stroke="#1a1a1a" stroke-width="1.1" />
<line x1="293.64" y1="166.50" x2="293.64" y2="168.50" stroke="#1a1a1a" stroke-width="1.1" />
<line x1="300.43" y1="166.50" x2="300.43" y2="168.50" stroke="#1a1a1a" stroke-width="1.1" />
<line x1="305.97" y1="166.50" x2="305.97" y2="168.50" stroke="#1a1a1a" stroke-width="1.1" />
<line x1="310.66" y1="166.50" x2="310.66" y2="168.50" stroke="#1a1a1a" stroke-width="1.1" />
<line x1="314.72" y1="166.50" x2="314.72" y2="168.50" stroke="#1a1a1a" stroke-width="1.1" />
<line x1="318.30" y1="166.50" x2="318.30" y2="168.50" stroke="#1a1a1a" stroke-width="1.1" />
<line x1="321.50" y1="166.50" x2="321.50" y2="169.70" stroke="#1a1a1a" stroke-width="1.1" />
<line x1="342.57" y1="166.50" x2="342.57" y2="168.50" stroke="#1a1a1a" stroke-width="1.1" />
<line x1="354.90" y1="166.50" x2="354.90" y2="168.50" stroke="#1a1a1a" stroke-width="1.1" />
<line x1="363.64" y1="166.50" x2="363.64" y2="168.50" stroke="#1a1a1a" stroke-width="1.1" />
<line x1="370.43" y1="166.50" x2="370.43" y2="168.50" stroke="#1a1a1a" stroke-width="1.1" />
<line x1="375.97" y1="166.50" x2="375.97" y2="168.50" stroke="#1a1a1a" stroke-width="1.1" />
<line x1="380.66" y1="166.50" x2="380.66" y2="168.50" stroke="#1a1a1a" stroke-width="1.1" />
<line x1="384.72" y1="166.50" x2="384.72" y2="168.50" stroke="#1a1a1a" stroke-width="1.1" />
<line x1="388.30" y1="166.50" x2="388.30" y2="168.50" stroke="#1a1a1a" stroke-width="1.1" />
<line x1="391.50" y1="166.50" x2="391.50" y2="169.70" stroke="#1a1a1a" stroke-width="1.1" />
<line x1="412.57" y1="166.50" x2="412.57" y2="168.50" stroke="#1a1a1a" stroke-width="1.1" />
<line x1="424.90" y1="166.50" x2="424.90" y2="168.50" stroke="#1a1a1a" stroke-width="1.1" />
<line x1="433.64" y1="166.50" x2="433.64" y2="168.50" stroke="#1a1a1a" stroke-width="1.1" />
<line x1="440.43" y1="166.50" x2="440.43" y2="168.50" stroke="#1a1a1a" stroke-width="1.1" />
<line x1="445.97" y1="166.50" x2="445.97" y2="168.50" stroke="#1a1a1a" stroke-width="1.1" />
<line x1="450.66" y1="166.50" x2="450.66" y2="168.50" stroke="#1a1a1a" stroke-width="1.1" />
<line x1="454.72" y1="166.50" x2="454.72" y2="168.50" stroke="#1a1a1a" stroke-width="1.1" />
<text x="321.50" y="181.00" font-family="Liberation Sans" font-weight="bold" font-size="11.9" text-anchor="middle" fill="#000" stroke="#000" stroke-width="0.35" >10</text>
<text x="391.50" y="181.00" font-family="Liberation Sans" font-weight="bold" font-size="11.9" text-anchor="middle" fill="#000" stroke="#000" stroke-width="0.35" >100</text>
<text x="364.00" y="199.20" font-family="Liberation Sans" font-weight="bold" font-size="12" text-anchor="middle" fill="#000" stroke="#000" stroke-width="0.35" >[Inhibitor] (nM)</text>
<text x="240.70" y="82.75" font-family="Liberation Sans" font-weight="bold" font-size="11.6" text-anchor="middle" fill="#000" stroke="#000" stroke-width="0.35" transform="rotate(-90 240.7 82.75)">PT (sec)</text>
<text x="232.80" y="16.00" font-family="Liberation Sans" font-weight="bold" font-size="22" text-anchor="start" fill="#000" stroke="#000" stroke-width="0.35" >b</text>
<line x1="275.80" y1="11.40" x2="291.30" y2="11.40" stroke="#ee1515" stroke-width="1.3" />
<rect x="281.38" y="9.28" width="4.25" height="4.25" fill="#fff" stroke="#fff" stroke-width="2.40"/>
<rect x="281.38" y="9.28" width="4.25" height="4.25" fill="#fff" stroke="#ee1515" stroke-width="1.2"/>
<text x="293.95" y="13.35" font-family="Liberation Sans" font-weight="bold" font-size="8.95" text-anchor="start" fill="#000" stroke="#000" stroke-width="0.35" >HD22</text>
<line x1="275.80" y1="22.85" x2="291.30" y2="22.85" stroke="#404040" stroke-width="1.3" />
<circle cx="283.50" cy="22.85" r="2.38" fill="#fff" stroke="#fff" stroke-width="2.40"/>
<circle cx="283.50" cy="22.85" r="2.38" fill="#fff" stroke="#404040" stroke-width="1.2"/>
<text x="293.95" y="24.80" font-family="Liberation Sans" font-weight="bold" font-size="8.95" text-anchor="start" fill="#000" stroke="#000" stroke-width="0.35" >DAB</text>
<line x1="275.80" y1="34.30" x2="291.30" y2="34.30" stroke="#3b6caf" stroke-width="1.3" />
<polygon points="283.50,31.55 286.38,36.30 280.62,36.30" fill="#fff" stroke="#fff" stroke-width="2.40"/>
<polygon points="283.50,31.55 286.38,36.30 280.62,36.30" fill="#fff" stroke="#3b6caf" stroke-width="1.2"/>
<text x="293.95" y="36.25" font-family="Liberation Sans" font-weight="bold" font-size="8.95" text-anchor="start" fill="#000" stroke="#000" stroke-width="0.35" >HD22 + DAB</text>
<line x1="275.80" y1="45.75" x2="291.30" y2="45.75" stroke="#fbba1c" stroke-width="1.3" />
<polygon points="283.50,48.50 286.38,43.75 280.62,43.75" fill="#fff" stroke="#fff" stroke-width="2.40"/>
<polygon points="283.50,48.50 286.38,43.75 280.62,43.75" fill="#fff" stroke="#fbba1c" stroke-width="1.2"/>
<text x="293.95" y="47.70" font-family="Liberation Sans" font-weight="bold" font-size="8.95" text-anchor="start" fill="#000" stroke="#000" stroke-width="0.35" >HD22-7A-DAB</text>
<line x1="275.80" y1="57.20" x2="291.30" y2="57.20" stroke="#3dbd68" stroke-width="1.3" />
<polygon points="283.50,54.32 286.38,57.20 283.50,60.07 280.62,57.20" fill="#fff" stroke="#fff" stroke-width="2.40"/>
<polygon points="283.50,54.32 286.38,57.20 283.50,60.07 280.62,57.20" fill="#fff" stroke="#3dbd68" stroke-width="1.2"/>
<text x="293.95" y="59.15" font-family="Liberation Sans" font-weight="bold" font-size="8.95" text-anchor="start" fill="#000" stroke="#000" stroke-width="0.35" >HD22-7A-DAB</text>
<text x="295.80" y="70.55" font-family="Liberation Sans" font-weight="bold" font-size="8.95" text-anchor="start" fill="#000" stroke="#000" stroke-width="0.35" >+ 2 <tspan font-weight="normal">µ</tspan>M AO2</text>
<polyline points="272.50,154.50 292.92,154.50 314.00,155.00 335.07,154.50 356.14,154.00 377.21,154.80 398.28,153.00 419.36,151.10 440.43,151.50" fill="none" stroke="#ee1515" stroke-width="1.1" stroke-linejoin="round"/>
<rect x="290.84" y="152.42" width="4.17" height="4.17" fill="#fff" stroke="#fff" stroke-width="2.65"/>
<rect x="290.84" y="152.42" width="4.17" height="4.17" fill="#fff" stroke="#ee1515" stroke-width="1.25"/>
<path d="M292.92,153.15V155.85M291.58,153.15H294.27M291.58,155.85H294.27" stroke="#ee1515" stroke-width="0.9" fill="none"/>
<rect x="311.91" y="152.92" width="4.17" height="4.17" fill="#fff" stroke="#fff" stroke-width="2.65"/>
<rect x="311.91" y="152.92" width="4.17" height="4.17" fill="#fff" stroke="#ee1515" stroke-width="1.25"/>
<path d="M314.00,153.65V156.35M312.65,153.65H315.34M312.65,156.35H315.34" stroke="#ee1515" stroke-width="0.9" fill="none"/>
<rect x="332.98" y="152.42" width="4.17" height="4.17" fill="#fff" stroke="#fff" stroke-width="2.65"/>
<rect x="332.98" y="152.42" width="4.17" height="4.17" fill="#fff" stroke="#ee1515" stroke-width="1.25"/>
<path d="M335.07,153.15V155.85M333.72,153.15H336.41M333.72,155.85H336.41" stroke="#ee1515" stroke-width="0.9" fill="none"/>
<rect x="354.06" y="151.92" width="4.17" height="4.17" fill="#fff" stroke="#fff" stroke-width="2.65"/>
<rect x="354.06" y="151.92" width="4.17" height="4.17" fill="#fff" stroke="#ee1515" stroke-width="1.25"/>
<path d="M356.14,152.65V155.35M354.79,152.65H357.49M354.79,155.35H357.49" stroke="#ee1515" stroke-width="0.9" fill="none"/>
<rect x="375.13" y="152.72" width="4.17" height="4.17" fill="#fff" stroke="#fff" stroke-width="2.65"/>
<rect x="375.13" y="152.72" width="4.17" height="4.17" fill="#fff" stroke="#ee1515" stroke-width="1.25"/>
<path d="M377.21,153.45V156.15M375.86,153.45H378.56M375.86,156.15H378.56" stroke="#ee1515" stroke-width="0.9" fill="none"/>
<rect x="396.20" y="150.92" width="4.17" height="4.17" fill="#fff" stroke="#fff" stroke-width="2.65"/>
<rect x="396.20" y="150.92" width="4.17" height="4.17" fill="#fff" stroke="#ee1515" stroke-width="1.25"/>
<path d="M398.28,151.65V154.35M396.94,151.65H399.63M396.94,154.35H399.63" stroke="#ee1515" stroke-width="0.9" fill="none"/>
<rect x="417.27" y="149.02" width="4.17" height="4.17" fill="#fff" stroke="#fff" stroke-width="2.65"/>
<rect x="417.27" y="149.02" width="4.17" height="4.17" fill="#fff" stroke="#ee1515" stroke-width="1.25"/>
<path d="M419.36,149.75V152.45M418.01,149.75H420.70M418.01,152.45H420.70" stroke="#ee1515" stroke-width="0.9" fill="none"/>
<rect x="438.35" y="149.42" width="4.17" height="4.17" fill="#fff" stroke="#fff" stroke-width="2.65"/>
<rect x="438.35" y="149.42" width="4.17" height="4.17" fill="#fff" stroke="#ee1515" stroke-width="1.25"/>
<path d="M440.43,150.15V152.85M439.08,150.15H441.78M439.08,152.85H441.78" stroke="#ee1515" stroke-width="0.9" fill="none"/>
<polyline points="272.50,154.90 292.92,155.90 314.00,154.50 335.07,155.90 356.14,154.20 377.21,151.30 398.28,149.00 419.36,143.70 440.43,136.50" fill="none" stroke="#3dbd68" stroke-width="1.1" stroke-linejoin="round"/>
<polygon points="292.92,153.08 295.74,155.90 292.92,158.72 290.11,155.90" fill="#fff" stroke="#fff" stroke-width="2.65"/>
<polygon points="292.92,153.08 295.74,155.90 292.92,158.72 290.11,155.90" fill="#fff" stroke="#3dbd68" stroke-width="1.25"/>
<path d="M292.92,154.55V157.25M291.58,154.55H294.27M291.58,157.25H294.27" stroke="#3dbd68" stroke-width="0.9" fill="none"/>
<polygon points="314.00,151.68 316.81,154.50 314.00,157.32 311.18,154.50" fill="#fff" stroke="#fff" stroke-width="2.65"/>
<polygon points="314.00,151.68 316.81,154.50 314.00,157.32 311.18,154.50" fill="#fff" stroke="#3dbd68" stroke-width="1.25"/>
<path d="M314.00,153.15V155.85M312.65,153.15H315.34M312.65,155.85H315.34" stroke="#3dbd68" stroke-width="0.9" fill="none"/>
<polygon points="335.07,153.08 337.88,155.90 335.07,158.72 332.25,155.90" fill="#fff" stroke="#fff" stroke-width="2.65"/>
<polygon points="335.07,153.08 337.88,155.90 335.07,158.72 332.25,155.90" fill="#fff" stroke="#3dbd68" stroke-width="1.25"/>
<path d="M335.07,154.55V157.25M333.72,154.55H336.41M333.72,157.25H336.41" stroke="#3dbd68" stroke-width="0.9" fill="none"/>
<polygon points="356.14,151.38 358.96,154.20 356.14,157.02 353.32,154.20" fill="#fff" stroke="#fff" stroke-width="2.65"/>
<polygon points="356.14,151.38 358.96,154.20 356.14,157.02 353.32,154.20" fill="#fff" stroke="#3dbd68" stroke-width="1.25"/>
<path d="M356.14,152.85V155.55M354.79,152.85H357.49M354.79,155.55H357.49" stroke="#3dbd68" stroke-width="0.9" fill="none"/>
<polygon points="377.21,148.48 380.03,151.30 377.21,154.12 374.39,151.30" fill="#fff" stroke="#fff" stroke-width="2.65"/>
<polygon points="377.21,148.48 380.03,151.30 377.21,154.12 374.39,151.30" fill="#fff" stroke="#3dbd68" stroke-width="1.25"/>
<path d="M377.21,149.95V152.65M375.86,149.95H378.56M375.86,152.65H378.56" stroke="#3dbd68" stroke-width="0.9" fill="none"/>
<polygon points="398.28,146.18 401.10,149.00 398.28,151.82 395.47,149.00" fill="#fff" stroke="#fff" stroke-width="2.65"/>
<polygon points="398.28,146.18 401.10,149.00 398.28,151.82 395.47,149.00" fill="#fff" stroke="#3dbd68" stroke-width="1.25"/>
<path d="M398.28,147.65V150.35M396.94,147.65H399.63M396.94,150.35H399.63" stroke="#3dbd68" stroke-width="0.9" fill="none"/>
<polygon points="419.36,140.88 422.17,143.70 419.36,146.52 416.54,143.70" fill="#fff" stroke="#fff" stroke-width="2.65"/>
<polygon points="419.36,140.88 422.17,143.70 419.36,146.52 416.54,143.70" fill="#fff" stroke="#3dbd68" stroke-width="1.25"/>
<path d="M419.36,142.35V145.05M418.01,142.35H420.70M418.01,145.05H420.70" stroke="#3dbd68" stroke-width="0.9" fill="none"/>
<polygon points="440.43,133.68 443.25,136.50 440.43,139.32 437.61,136.50" fill="#fff" stroke="#fff" stroke-width="2.65"/>
<polygon points="440.43,133.68 443.25,136.50 440.43,139.32 437.61,136.50" fill="#fff" stroke="#3dbd68" stroke-width="1.25"/>
<path d="M440.43,135.15V137.85M439.08,135.15H441.78M439.08,137.85H441.78" stroke="#3dbd68" stroke-width="0.9" fill="none"/>
<polyline points="272.50,154.00 292.92,153.20 314.00,153.50 335.07,152.50 356.14,151.80 377.21,147.50 398.28,143.60 419.36,133.30 440.43,112.10" fill="none" stroke="#404040" stroke-width="1.1" stroke-linejoin="round"/>
<circle cx="292.92" cy="153.20" r="2.33" fill="#fff" stroke="#fff" stroke-width="2.65"/>
<circle cx="292.92" cy="153.20" r="2.33" fill="#fff" stroke="#404040" stroke-width="1.25"/>
<path d="M292.92,151.85V154.55M291.58,151.85H294.27M291.58,154.55H294.27" stroke="#404040" stroke-width="0.9" fill="none"/>
<circle cx="314.00" cy="153.50" r="2.33" fill="#fff" stroke="#fff" stroke-width="2.65"/>
<circle cx="314.00" cy="153.50" r="2.33" fill="#fff" stroke="#404040" stroke-width="1.25"/>
<path d="M314.00,152.15V154.85M312.65,152.15H315.34M312.65,154.85H315.34" stroke="#404040" stroke-width="0.9" fill="none"/>
<circle cx="335.07" cy="152.50" r="2.33" fill="#fff" stroke="#fff" stroke-width="2.65"/>
<circle cx="335.07" cy="152.50" r="2.33" fill="#fff" stroke="#404040" stroke-width="1.25"/>
<path d="M335.07,151.15V153.85M333.72,151.15H336.41M333.72,153.85H336.41" stroke="#404040" stroke-width="0.9" fill="none"/>
<circle cx="356.14" cy="151.80" r="2.33" fill="#fff" stroke="#fff" stroke-width="2.65"/>
<circle cx="356.14" cy="151.80" r="2.33" fill="#fff" stroke="#404040" stroke-width="1.25"/>
<path d="M356.14,150.45V153.15M354.79,150.45H357.49M354.79,153.15H357.49" stroke="#404040" stroke-width="0.9" fill="none"/>
<circle cx="377.21" cy="147.50" r="2.33" fill="#fff" stroke="#fff" stroke-width="2.65"/>
<circle cx="377.21" cy="147.50" r="2.33" fill="#fff" stroke="#404040" stroke-width="1.25"/>
<path d="M377.21,146.15V148.85M375.86,146.15H378.56M375.86,148.85H378.56" stroke="#404040" stroke-width="0.9" fill="none"/>
<circle cx="398.28" cy="143.60" r="2.33" fill="#fff" stroke="#fff" stroke-width="2.65"/>
<circle cx="398.28" cy="143.60" r="2.33" fill="#fff" stroke="#404040" stroke-width="1.25"/>
<path d="M398.28,142.25V144.95M396.94,142.25H399.63M396.94,144.95H399.63" stroke="#404040" stroke-width="0.9" fill="none"/>
<circle cx="419.36" cy="133.30" r="2.33" fill="#fff" stroke="#fff" stroke-width="2.65"/>
<circle cx="419.36" cy="133.30" r="2.33" fill="#fff" stroke="#404040" stroke-width="1.25"/>
<path d="M419.36,131.95V134.65M418.01,131.95H420.70M418.01,134.65H420.70" stroke="#404040" stroke-width="0.9" fill="none"/>
<circle cx="440.43" cy="112.10" r="2.33" fill="#fff" stroke="#fff" stroke-width="2.65"/>
<circle cx="440.43" cy="112.10" r="2.33" fill="#fff" stroke="#404040" stroke-width="1.25"/>
<path d="M440.43,110.75V113.45M439.08,110.75H441.78M439.08,113.45H441.78" stroke="#404040" stroke-width="0.9" fill="none"/>
<polyline points="272.50,154.20 292.92,153.80 314.00,154.90 335.07,152.80 356.14,151.60 377.21,147.20 398.28,143.10 419.36,130.20 440.43,24.10" fill="none" stroke="#fbba1c" stroke-width="1.1" stroke-linejoin="round"/>
<polygon points="292.92,156.50 295.74,151.84 290.11,151.84" fill="#fff" stroke="#fff" stroke-width="2.65"/>
<polygon points="292.92,156.50 295.74,151.84 290.11,151.84" fill="#fff" stroke="#fbba1c" stroke-width="1.25"/>
<path d="M292.92,152.45V155.15M291.58,152.45H294.27M291.58,155.15H294.27" stroke="#fbba1c" stroke-width="0.9" fill="none"/>
<polygon points="314.00,157.59 316.81,152.94 311.18,152.94" fill="#fff" stroke="#fff" stroke-width="2.65"/>
<polygon points="314.00,157.59 316.81,152.94 311.18,152.94" fill="#fff" stroke="#fbba1c" stroke-width="1.25"/>
<path d="M314.00,153.55V156.25M312.65,153.55H315.34M312.65,156.25H315.34" stroke="#fbba1c" stroke-width="0.9" fill="none"/>
<polygon points="335.07,155.50 337.88,150.84 332.25,150.84" fill="#fff" stroke="#fff" stroke-width="2.65"/>
<polygon points="335.07,155.50 337.88,150.84 332.25,150.84" fill="#fff" stroke="#fbba1c" stroke-width="1.25"/>
<path d="M335.07,151.45V154.15M333.72,151.45H336.41M333.72,154.15H336.41" stroke="#fbba1c" stroke-width="0.9" fill="none"/>
<polygon points="356.14,154.29 358.96,149.64 353.32,149.64" fill="#fff" stroke="#fff" stroke-width="2.65"/>
<polygon points="356.14,154.29 358.96,149.64 353.32,149.64" fill="#fff" stroke="#fbba1c" stroke-width="1.25"/>
<path d="M356.14,150.25V152.95M354.79,150.25H357.49M354.79,152.95H357.49" stroke="#fbba1c" stroke-width="0.9" fill="none"/>
<polygon points="377.21,149.89 380.03,145.24 374.39,145.24" fill="#fff" stroke="#fff" stroke-width="2.65"/>
<polygon points="377.21,149.89 380.03,145.24 374.39,145.24" fill="#fff" stroke="#fbba1c" stroke-width="1.25"/>
<path d="M377.21,145.85V148.55M375.86,145.85H378.56M375.86,148.55H378.56" stroke="#fbba1c" stroke-width="0.9" fill="none"/>
<polygon points="398.28,145.79 401.10,141.14 395.47,141.14" fill="#fff" stroke="#fff" stroke-width="2.65"/>
<polygon points="398.28,145.79 401.10,141.14 395.47,141.14" fill="#fff" stroke="#fbba1c" stroke-width="1.25"/>
<path d="M398.28,141.75V144.45M396.94,141.75H399.63M396.94,144.45H399.63" stroke="#fbba1c" stroke-width="0.9" fill="none"/>
<polygon points="419.36,132.89 422.17,128.24 416.54,128.24" fill="#fff" stroke="#fff" stroke-width="2.65"/>
<polygon points="419.36,132.89 422.17,128.24 416.54,128.24" fill="#fff" stroke="#fbba1c" stroke-width="1.25"/>
<path d="M419.36,128.85V131.55M418.01,128.85H420.70M418.01,131.55H420.70" stroke="#fbba1c" stroke-width="0.9" fill="none"/>
<polygon points="440.43,26.80 443.25,22.14 437.61,22.14" fill="#fff" stroke="#fff" stroke-width="2.65"/>
<polygon points="440.43,26.80 443.25,22.14 437.61,22.14" fill="#fff" stroke="#fbba1c" stroke-width="1.25"/>
<path d="M440.43,22.75V25.45M439.08,22.75H441.78M439.08,25.45H441.78" stroke="#fbba1c" stroke-width="0.9" fill="none"/>
<line x1="440.43" y1="9.20" x2="440.43" y2="47.00" stroke="#fbba1c" stroke-width="1.2" />
<line x1="438.23" y1="9.20" x2="442.63" y2="9.20" stroke="#fbba1c" stroke-width="1.2" />
<line x1="438.23" y1="47.00" x2="442.63" y2="47.00" stroke="#fbba1c" stroke-width="1.2" />
<polygon points="440.43,26.96 443.42,22.02 437.44,22.02" fill="#fff" stroke="#fbba1c" stroke-width="1.5"/>
<path d="M440.43,22.67V25.53M439.00,22.67H441.86M439.00,25.53H441.86" stroke="#fbba1c" stroke-width="0.9" fill="none"/>
<polyline points="272.50,153.30 292.92,151.80 314.00,152.50 335.07,151.30 356.14,149.00 377.21,144.30 398.28,138.80 419.36,128.60 440.43,104.00" fill="none" stroke="#3b6caf" stroke-width="1.1" stroke-linejoin="round"/>
<polygon points="292.92,149.11 295.74,153.76 290.11,153.76" fill="#fff" stroke="#fff" stroke-width="2.65"/>
<polygon points="292.92,149.11 295.74,153.76 290.11,153.76" fill="#fff" stroke="#3b6caf" stroke-width="1.25"/>
<path d="M292.92,150.45V153.15M291.58,150.45H294.27M291.58,153.15H294.27" stroke="#3b6caf" stroke-width="0.9" fill="none"/>
<polygon points="314.00,149.81 316.81,154.46 311.18,154.46" fill="#fff" stroke="#fff" stroke-width="2.65"/>
<polygon points="314.00,149.81 316.81,154.46 311.18,154.46" fill="#fff" stroke="#3b6caf" stroke-width="1.25"/>
<path d="M314.00,151.15V153.85M312.65,151.15H315.34M312.65,153.85H315.34" stroke="#3b6caf" stroke-width="0.9" fill="none"/>
<polygon points="335.07,148.61 337.88,153.26 332.25,153.26" fill="#fff" stroke="#fff" stroke-width="2.65"/>
<polygon points="335.07,148.61 337.88,153.26 332.25,153.26" fill="#fff" stroke="#3b6caf" stroke-width="1.25"/>
<path d="M335.07,149.95V152.65M333.72,149.95H336.41M333.72,152.65H336.41" stroke="#3b6caf" stroke-width="0.9" fill="none"/>
<polygon points="356.14,146.31 358.96,150.96 353.32,150.96" fill="#fff" stroke="#fff" stroke-width="2.65"/>
<polygon points="356.14,146.31 358.96,150.96 353.32,150.96" fill="#fff" stroke="#3b6caf" stroke-width="1.25"/>
<path d="M356.14,147.65V150.35M354.79,147.65H357.49M354.79,150.35H357.49" stroke="#3b6caf" stroke-width="0.9" fill="none"/>
<polygon points="377.21,141.61 380.03,146.26 374.39,146.26" fill="#fff" stroke="#fff" stroke-width="2.65"/>
<polygon points="377.21,141.61 380.03,146.26 374.39,146.26" fill="#fff" stroke="#3b6caf" stroke-width="1.25"/>
<path d="M377.21,142.95V145.65M375.86,142.95H378.56M375.86,145.65H378.56" stroke="#3b6caf" stroke-width="0.9" fill="none"/>
<polygon points="398.28,136.11 401.10,140.76 395.47,140.76" fill="#fff" stroke="#fff" stroke-width="2.65"/>
<polygon points="398.28,136.11 401.10,140.76 395.47,140.76" fill="#fff" stroke="#3b6caf" stroke-width="1.25"/>
<path d="M398.28,137.45V140.15M396.94,137.45H399.63M396.94,140.15H399.63" stroke="#3b6caf" stroke-width="0.9" fill="none"/>
<polygon points="419.36,125.91 422.17,130.56 416.54,130.56" fill="#fff" stroke="#fff" stroke-width="2.65"/>
<polygon points="419.36,125.91 422.17,130.56 416.54,130.56" fill="#fff" stroke="#3b6caf" stroke-width="1.25"/>
<path d="M419.36,127.25V129.95M418.01,127.25H420.70M418.01,129.95H420.70" stroke="#3b6caf" stroke-width="0.9" fill="none"/>
<polygon points="440.43,101.31 443.25,105.96 437.61,105.96" fill="#fff" stroke="#fff" stroke-width="2.65"/>
<polygon points="440.43,101.31 443.25,105.96 437.61,105.96" fill="#fff" stroke="#3b6caf" stroke-width="1.25"/>
<path d="M440.43,102.65V105.35M439.08,102.65H441.78M439.08,105.35H441.78" stroke="#3b6caf" stroke-width="0.9" fill="none"/>
<line x1="501.00" y1="0.70" x2="684.00" y2="0.70" stroke="#1a1a1a" stroke-width="1.2" />
<line x1="501.00" y1="165.30" x2="684.00" y2="165.30" stroke="#1a1a1a" stroke-width="1.2" />
<line x1="684.00" y1="0.70" x2="684.00" y2="165.30" stroke="#1a1a1a" stroke-width="1.2" />
<line x1="501.00" y1="0.70" x2="501.00" y2="165.30" stroke="#1a1a1a" stroke-width="1.2" />
<line x1="499.40" y1="161.36" x2="501.00" y2="161.36" stroke="#1a1a1a" stroke-width="0.8" />
<line x1="499.40" y1="157.51" x2="501.00" y2="157.51" stroke="#1a1a1a" stroke-width="0.8" />
<line x1="499.40" y1="153.88" x2="501.00" y2="153.88" stroke="#1a1a1a" stroke-width="0.8" />
<line x1="499.40" y1="150.45" x2="501.00" y2="150.45" stroke="#1a1a1a" stroke-width="0.8" />
<line x1="499.40" y1="141.15" x2="501.00" y2="141.15" stroke="#1a1a1a" stroke-width="0.8" />
<line x1="499.40" y1="135.63" x2="501.00" y2="135.63" stroke="#1a1a1a" stroke-width="0.8" />
<line x1="499.40" y1="130.56" x2="501.00" y2="130.56" stroke="#1a1a1a" stroke-width="0.8" />
<line x1="499.40" y1="125.86" x2="501.00" y2="125.86" stroke="#1a1a1a" stroke-width="0.8" />
<line x1="499.40" y1="121.48" x2="501.00" y2="121.48" stroke="#1a1a1a" stroke-width="0.8" />
<line x1="499.40" y1="117.39" x2="501.00" y2="117.39" stroke="#1a1a1a" stroke-width="0.8" />
<line x1="499.40" y1="113.54" x2="501.00" y2="113.54" stroke="#1a1a1a" stroke-width="0.8" />
<line x1="499.40" y1="109.91" x2="501.00" y2="109.91" stroke="#1a1a1a" stroke-width="0.8" />
<line x1="499.40" y1="106.48" x2="501.00" y2="106.48" stroke="#1a1a1a" stroke-width="0.8" />
<line x1="499.40" y1="97.18" x2="501.00" y2="97.18" stroke="#1a1a1a" stroke-width="0.8" />
<line x1="499.40" y1="91.66" x2="501.00" y2="91.66" stroke="#1a1a1a" stroke-width="0.8" />
<line x1="499.40" y1="86.59" x2="501.00" y2="86.59" stroke="#1a1a1a" stroke-width="0.8" />
<line x1="499.40" y1="81.89" x2="501.00" y2="81.89" stroke="#1a1a1a" stroke-width="0.8" />
<line x1="499.40" y1="77.51" x2="501.00" y2="77.51" stroke="#1a1a1a" stroke-width="0.8" />
<line x1="499.40" y1="73.42" x2="501.00" y2="73.42" stroke="#1a1a1a" stroke-width="0.8" />
<line x1="499.40" y1="69.57" x2="501.00" y2="69.57" stroke="#1a1a1a" stroke-width="0.8" />
<line x1="499.40" y1="65.94" x2="501.00" y2="65.94" stroke="#1a1a1a" stroke-width="0.8" />
<line x1="499.40" y1="62.51" x2="501.00" y2="62.51" stroke="#1a1a1a" stroke-width="0.8" />
<line x1="499.40" y1="53.21" x2="501.00" y2="53.21" stroke="#1a1a1a" stroke-width="0.8" />
<line x1="499.40" y1="47.69" x2="501.00" y2="47.69" stroke="#1a1a1a" stroke-width="0.8" />
<line x1="499.40" y1="42.62" x2="501.00" y2="42.62" stroke="#1a1a1a" stroke-width="0.8" />
<line x1="499.40" y1="37.92" x2="501.00" y2="37.92" stroke="#1a1a1a" stroke-width="0.8" />
<line x1="499.40" y1="33.54" x2="501.00" y2="33.54" stroke="#1a1a1a" stroke-width="0.8" />
<line x1="499.40" y1="29.45" x2="501.00" y2="29.45" stroke="#1a1a1a" stroke-width="0.8" />
<line x1="499.40" y1="25.60" x2="501.00" y2="25.60" stroke="#1a1a1a" stroke-width="0.8" />
<line x1="499.40" y1="21.97" x2="501.00" y2="21.97" stroke="#1a1a1a" stroke-width="0.8" />
<line x1="499.40" y1="18.54" x2="501.00" y2="18.54" stroke="#1a1a1a" stroke-width="0.8" />
<line x1="499.40" y1="9.24" x2="501.00" y2="9.24" stroke="#1a1a1a" stroke-width="0.8" />
<line x1="499.40" y1="3.72" x2="501.00" y2="3.72" stroke="#1a1a1a" stroke-width="0.8" />
<line x1="497.80" y1="147.20" x2="501.00" y2="147.20" stroke="#1a1a1a" stroke-width="1.2" />
<text x="496.50" y="151.00" font-family="Liberation Sans" font-weight="bold" font-size="11.9" text-anchor="end" fill="#000" stroke="#000" stroke-width="0.35" >32</text>
<line x1="497.80" y1="103.23" x2="501.00" y2="103.23" stroke="#1a1a1a" stroke-width="1.2" />
<text x="496.50" y="107.03" font-family="Liberation Sans" font-weight="bold" font-size="11.9" text-anchor="end" fill="#000" stroke="#000" stroke-width="0.35" >64</text>
<line x1="497.80" y1="59.26" x2="501.00" y2="59.26" stroke="#1a1a1a" stroke-width="1.2" />
<text x="496.50" y="63.06" font-family="Liberation Sans" font-weight="bold" font-size="11.9" text-anchor="end" fill="#000" stroke="#000" stroke-width="0.35" >128</text>
<line x1="497.80" y1="15.29" x2="501.00" y2="15.29" stroke="#1a1a1a" stroke-width="1.2" />
<text x="496.50" y="19.09" font-family="Liberation Sans" font-weight="bold" font-size="11.9" text-anchor="end" fill="#000" stroke="#000" stroke-width="0.35" >256</text>
<line x1="500.83" y1="165.30" x2="500.83" y2="167.30" stroke="#1a1a1a" stroke-width="1.1" />
<line x1="513.02" y1="165.30" x2="513.02" y2="167.30" stroke="#1a1a1a" stroke-width="1.1" />
<line x1="521.66" y1="165.30" x2="521.66" y2="167.30" stroke="#1a1a1a" stroke-width="1.1" />
<line x1="528.37" y1="165.30" x2="528.37" y2="167.30" stroke="#1a1a1a" stroke-width="1.1" />
<line x1="533.85" y1="165.30" x2="533.85" y2="167.30" stroke="#1a1a1a" stroke-width="1.1" />
<line x1="538.48" y1="165.30" x2="538.48" y2="167.30" stroke="#1a1a1a" stroke-width="1.1" />
<line x1="542.49" y1="165.30" x2="542.49" y2="167.30" stroke="#1a1a1a" stroke-width="1.1" />
<line x1="546.03" y1="165.30" x2="546.03" y2="167.30" stroke="#1a1a1a" stroke-width="1.1" />
<line x1="549.20" y1="165.30" x2="549.20" y2="168.50" stroke="#1a1a1a" stroke-width="1.1" />
<line x1="570.03" y1="165.30" x2="570.03" y2="167.30" stroke="#1a1a1a" stroke-width="1.1" />
<line x1="582.22" y1="165.30" x2="582.22" y2="167.30" stroke="#1a1a1a" stroke-width="1.1" />
<line x1="590.86" y1="165.30" x2="590.86" y2="167.30" stroke="#1a1a1a" stroke-width="1.1" />
<line x1="597.57" y1="165.30" x2="597.57" y2="167.30" stroke="#1a1a1a" stroke-width="1.1" />
<line x1="603.05" y1="165.30" x2="603.05" y2="167.30" stroke="#1a1a1a" stroke-width="1.1" />
<line x1="607.68" y1="165.30" x2="607.68" y2="167.30" stroke="#1a1a1a" stroke-width="1.1" />
<line x1="611.69" y1="165.30" x2="611.69" y2="167.30" stroke="#1a1a1a" stroke-width="1.1" />
<line x1="615.23" y1="165.30" x2="615.23" y2="167.30" stroke="#1a1a1a" stroke-width="1.1" />
<line x1="618.40" y1="165.30" x2="618.40" y2="168.50" stroke="#1a1a1a" stroke-width="1.1" />
<line x1="639.23" y1="165.30" x2="639.23" y2="167.30" stroke="#1a1a1a" stroke-width="1.1" />
<line x1="651.42" y1="165.30" x2="651.42" y2="167.30" stroke="#1a1a1a" stroke-width="1.1" />
<line x1="660.06" y1="165.30" x2="660.06" y2="167.30" stroke="#1a1a1a" stroke-width="1.1" />
<line x1="666.77" y1="165.30" x2="666.77" y2="167.30" stroke="#1a1a1a" stroke-width="1.1" />
<line x1="672.25" y1="165.30" x2="672.25" y2="167.30" stroke="#1a1a1a" stroke-width="1.1" />
<line x1="676.88" y1="165.30" x2="676.88" y2="167.30" stroke="#1a1a1a" stroke-width="1.1" />
<line x1="680.89" y1="165.30" x2="680.89" y2="167.30" stroke="#1a1a1a" stroke-width="1.1" />
<line x1="684.43" y1="165.30" x2="684.43" y2="167.30" stroke="#1a1a1a" stroke-width="1.1" />
<text x="549.20" y="180.40" font-family="Liberation Sans" font-weight="bold" font-size="11.9" text-anchor="middle" fill="#000" stroke="#000" stroke-width="0.35" >10</text>
<text x="618.40" y="180.40" font-family="Liberation Sans" font-weight="bold" font-size="11.9" text-anchor="middle" fill="#000" stroke="#000" stroke-width="0.35" >100</text>
<text x="593.00" y="198.80" font-family="Liberation Sans" font-weight="bold" font-size="12" text-anchor="middle" fill="#000" stroke="#000" stroke-width="0.35" >[Inhibitor] (nM)</text>
<text x="469.40" y="80.60" font-family="Liberation Sans" font-weight="bold" font-size="11.0" text-anchor="middle" fill="#000" stroke="#000" stroke-width="0.35" transform="rotate(-90 469.4 80.6)">APTT (sec)</text>
<text x="460.00" y="16.00" font-family="Liberation Sans" font-weight="bold" font-size="22" text-anchor="start" fill="#000" stroke="#000" stroke-width="0.35" >c</text>
<line x1="505.20" y1="11.40" x2="520.70" y2="11.40" stroke="#ee1515" stroke-width="1.3" />
<rect x="510.77" y="9.28" width="4.25" height="4.25" fill="#fff" stroke="#fff" stroke-width="2.40"/>
<rect x="510.77" y="9.28" width="4.25" height="4.25" fill="#fff" stroke="#ee1515" stroke-width="1.2"/>
<text x="523.35" y="13.35" font-family="Liberation Sans" font-weight="bold" font-size="8.95" text-anchor="start" fill="#000" stroke="#000" stroke-width="0.35" >HD22</text>
<line x1="505.20" y1="22.85" x2="520.70" y2="22.85" stroke="#404040" stroke-width="1.3" />
<circle cx="512.90" cy="22.85" r="2.38" fill="#fff" stroke="#fff" stroke-width="2.40"/>
<circle cx="512.90" cy="22.85" r="2.38" fill="#fff" stroke="#404040" stroke-width="1.2"/>
<text x="523.35" y="24.80" font-family="Liberation Sans" font-weight="bold" font-size="8.95" text-anchor="start" fill="#000" stroke="#000" stroke-width="0.35" >DAB</text>
<line x1="505.20" y1="34.30" x2="520.70" y2="34.30" stroke="#3b6caf" stroke-width="1.3" />
<polygon points="512.90,31.55 515.77,36.30 510.02,36.30" fill="#fff" stroke="#fff" stroke-width="2.40"/>
<polygon points="512.90,31.55 515.77,36.30 510.02,36.30" fill="#fff" stroke="#3b6caf" stroke-width="1.2"/>
<text x="523.35" y="36.25" font-family="Liberation Sans" font-weight="bold" font-size="8.95" text-anchor="start" fill="#000" stroke="#000" stroke-width="0.35" >HD22 + DAB</text>
<line x1="505.20" y1="45.75" x2="520.70" y2="45.75" stroke="#fbba1c" stroke-width="1.3" />
<polygon points="512.90,48.50 515.77,43.75 510.02,43.75" fill="#fff" stroke="#fff" stroke-width="2.40"/>
<polygon points="512.90,48.50 515.77,43.75 510.02,43.75" fill="#fff" stroke="#fbba1c" stroke-width="1.2"/>
<text x="523.35" y="47.70" font-family="Liberation Sans" font-weight="bold" font-size="8.95" text-anchor="start" fill="#000" stroke="#000" stroke-width="0.35" >HD22-7A-DAB</text>
<line x1="505.20" y1="57.20" x2="520.70" y2="57.20" stroke="#3dbd68" stroke-width="1.3" />
<polygon points="512.90,54.32 515.77,57.20 512.90,60.07 510.02,57.20" fill="#fff" stroke="#fff" stroke-width="2.40"/>
<polygon points="512.90,54.32 515.77,57.20 512.90,60.07 510.02,57.20" fill="#fff" stroke="#3dbd68" stroke-width="1.2"/>
<text x="523.35" y="59.15" font-family="Liberation Sans" font-weight="bold" font-size="8.95" text-anchor="start" fill="#000" stroke="#000" stroke-width="0.35" >HD22-7A-DAB</text>
<text x="525.20" y="70.55" font-family="Liberation Sans" font-weight="bold" font-size="8.95" text-anchor="start" fill="#000" stroke="#000" stroke-width="0.35" >+ 2 <tspan font-weight="normal">µ</tspan>M AO2</text>
<polyline points="501.00,156.90 520.95,157.90 541.78,156.90 562.61,157.60 583.44,154.30 604.27,152.90 625.11,150.10 645.94,143.40 666.77,135.50" fill="none" stroke="#ee1515" stroke-width="1.1" stroke-linejoin="round"/>
<rect x="518.91" y="155.86" width="4.08" height="4.08" fill="#fff" stroke="#fff" stroke-width="2.65"/>
<rect x="518.91" y="155.86" width="4.08" height="4.08" fill="#fff" stroke="#ee1515" stroke-width="1.25"/>
<path d="M520.95,156.58V159.22M519.63,156.58H522.27M519.63,159.22H522.27" stroke="#ee1515" stroke-width="0.9" fill="none"/>
<rect x="539.74" y="154.86" width="4.08" height="4.08" fill="#fff" stroke="#fff" stroke-width="2.65"/>
<rect x="539.74" y="154.86" width="4.08" height="4.08" fill="#fff" stroke="#ee1515" stroke-width="1.25"/>
<path d="M541.78,155.58V158.22M540.46,155.58H543.10M540.46,158.22H543.10" stroke="#ee1515" stroke-width="0.9" fill="none"/>
<rect x="560.57" y="155.56" width="4.08" height="4.08" fill="#fff" stroke="#fff" stroke-width="2.65"/>
<rect x="560.57" y="155.56" width="4.08" height="4.08" fill="#fff" stroke="#ee1515" stroke-width="1.25"/>
<path d="M562.61,156.28V158.92M561.29,156.28H563.93M561.29,158.92H563.93" stroke="#ee1515" stroke-width="0.9" fill="none"/>
<rect x="581.40" y="152.26" width="4.08" height="4.08" fill="#fff" stroke="#fff" stroke-width="2.65"/>
<rect x="581.40" y="152.26" width="4.08" height="4.08" fill="#fff" stroke="#ee1515" stroke-width="1.25"/>
<path d="M583.44,152.98V155.62M582.12,152.98H584.76M582.12,155.62H584.76" stroke="#ee1515" stroke-width="0.9" fill="none"/>
<rect x="602.23" y="150.86" width="4.08" height="4.08" fill="#fff" stroke="#fff" stroke-width="2.65"/>
<rect x="602.23" y="150.86" width="4.08" height="4.08" fill="#fff" stroke="#ee1515" stroke-width="1.25"/>
<path d="M604.27,151.58V154.22M602.95,151.58H605.59M602.95,154.22H605.59" stroke="#ee1515" stroke-width="0.9" fill="none"/>
<rect x="623.07" y="148.06" width="4.08" height="4.08" fill="#fff" stroke="#fff" stroke-width="2.65"/>
<rect x="623.07" y="148.06" width="4.08" height="4.08" fill="#fff" stroke="#ee1515" stroke-width="1.25"/>
<path d="M625.11,148.78V151.42M623.79,148.78H626.43M623.79,151.42H626.43" stroke="#ee1515" stroke-width="0.9" fill="none"/>
<rect x="643.90" y="141.36" width="4.08" height="4.08" fill="#fff" stroke="#fff" stroke-width="2.65"/>
<rect x="643.90" y="141.36" width="4.08" height="4.08" fill="#fff" stroke="#ee1515" stroke-width="1.25"/>
<path d="M645.94,142.08V144.72M644.62,142.08H647.26M644.62,144.72H647.26" stroke="#ee1515" stroke-width="0.9" fill="none"/>
<rect x="664.73" y="133.46" width="4.08" height="4.08" fill="#fff" stroke="#fff" stroke-width="2.65"/>
<rect x="664.73" y="133.46" width="4.08" height="4.08" fill="#fff" stroke="#ee1515" stroke-width="1.25"/>
<path d="M666.77,134.18V136.82M665.45,134.18H668.09M665.45,136.82H668.09" stroke="#ee1515" stroke-width="0.9" fill="none"/>
<polyline points="501.00,155.20 520.95,154.30 541.78,153.90 562.61,146.30 583.44,139.70 604.27,131.70 625.11,121.40 645.94,105.50 666.77,89.30" fill="none" stroke="#404040" stroke-width="1.1" stroke-linejoin="round"/>
<circle cx="520.95" cy="154.30" r="2.38" fill="#fff" stroke="#fff" stroke-width="2.65"/>
<circle cx="520.95" cy="154.30" r="2.38" fill="#fff" stroke="#404040" stroke-width="1.25"/>
<path d="M520.95,152.93V155.68M519.57,152.93H522.32M519.57,155.68H522.32" stroke="#404040" stroke-width="0.9" fill="none"/>
<circle cx="541.78" cy="153.90" r="2.38" fill="#fff" stroke="#fff" stroke-width="2.65"/>
<circle cx="541.78" cy="153.90" r="2.38" fill="#fff" stroke="#404040" stroke-width="1.25"/>
<path d="M541.78,152.53V155.28M540.41,152.53H543.16M540.41,155.28H543.16" stroke="#404040" stroke-width="0.9" fill="none"/>
<circle cx="562.61" cy="146.30" r="2.38" fill="#fff" stroke="#fff" stroke-width="2.65"/>
<circle cx="562.61" cy="146.30" r="2.38" fill="#fff" stroke="#404040" stroke-width="1.25"/>
<path d="M562.61,144.93V147.68M561.24,144.93H563.99M561.24,147.68H563.99" stroke="#404040" stroke-width="0.9" fill="none"/>
<circle cx="583.44" cy="139.70" r="2.38" fill="#fff" stroke="#fff" stroke-width="2.65"/>
<circle cx="583.44" cy="139.70" r="2.38" fill="#fff" stroke="#404040" stroke-width="1.25"/>
<path d="M583.44,138.32V141.07M582.07,138.32H584.82M582.07,141.07H584.82" stroke="#404040" stroke-width="0.9" fill="none"/>
<circle cx="604.27" cy="131.70" r="2.38" fill="#fff" stroke="#fff" stroke-width="2.65"/>
<circle cx="604.27" cy="131.70" r="2.38" fill="#fff" stroke="#404040" stroke-width="1.25"/>
<path d="M604.27,130.32V133.07M602.90,130.32H605.65M602.90,133.07H605.65" stroke="#404040" stroke-width="0.9" fill="none"/>
<circle cx="625.11" cy="121.40" r="2.38" fill="#fff" stroke="#fff" stroke-width="2.65"/>
<circle cx="625.11" cy="121.40" r="2.38" fill="#fff" stroke="#404040" stroke-width="1.25"/>
<path d="M625.11,120.03V122.78M623.73,120.03H626.48M623.73,122.78H626.48" stroke="#404040" stroke-width="0.9" fill="none"/>
<circle cx="645.94" cy="105.50" r="2.38" fill="#fff" stroke="#fff" stroke-width="2.65"/>
<circle cx="645.94" cy="105.50" r="2.38" fill="#fff" stroke="#404040" stroke-width="1.25"/>
<path d="M645.94,104.12V106.88M644.56,104.12H647.31M644.56,106.88H647.31" stroke="#404040" stroke-width="0.9" fill="none"/>
<circle cx="666.77" cy="89.30" r="2.38" fill="#fff" stroke="#fff" stroke-width="2.65"/>
<circle cx="666.77" cy="89.30" r="2.38" fill="#fff" stroke="#404040" stroke-width="1.25"/>
<path d="M666.77,87.92V90.67M665.39,87.92H668.14M665.39,90.67H668.14" stroke="#404040" stroke-width="0.9" fill="none"/>
<polyline points="501.00,154.10 520.95,154.30 541.78,152.80 562.61,145.10 583.44,139.00 604.27,126.50 625.11,112.20 645.94,92.60 666.77,79.50" fill="none" stroke="#3b6caf" stroke-width="1.1" stroke-linejoin="round"/>
<polygon points="520.95,151.55 523.82,156.30 518.07,156.30" fill="#fff" stroke="#fff" stroke-width="2.65"/>
<polygon points="520.95,151.55 523.82,156.30 518.07,156.30" fill="#fff" stroke="#3b6caf" stroke-width="1.25"/>
<path d="M520.95,152.93V155.68M519.57,152.93H522.32M519.57,155.68H522.32" stroke="#3b6caf" stroke-width="0.9" fill="none"/>
<polygon points="541.78,150.05 544.66,154.80 538.91,154.80" fill="#fff" stroke="#fff" stroke-width="2.65"/>
<polygon points="541.78,150.05 544.66,154.80 538.91,154.80" fill="#fff" stroke="#3b6caf" stroke-width="1.25"/>
<path d="M541.78,151.43V154.18M540.41,151.43H543.16M540.41,154.18H543.16" stroke="#3b6caf" stroke-width="0.9" fill="none"/>
<polygon points="562.61,142.35 565.49,147.10 559.74,147.10" fill="#fff" stroke="#fff" stroke-width="2.65"/>
<polygon points="562.61,142.35 565.49,147.10 559.74,147.10" fill="#fff" stroke="#3b6caf" stroke-width="1.25"/>
<path d="M562.61,143.72V146.47M561.24,143.72H563.99M561.24,146.47H563.99" stroke="#3b6caf" stroke-width="0.9" fill="none"/>
<polygon points="583.44,136.25 586.32,141.00 580.57,141.00" fill="#fff" stroke="#fff" stroke-width="2.65"/>
<polygon points="583.44,136.25 586.32,141.00 580.57,141.00" fill="#fff" stroke="#3b6caf" stroke-width="1.25"/>
<path d="M583.44,137.62V140.38M582.07,137.62H584.82M582.07,140.38H584.82" stroke="#3b6caf" stroke-width="0.9" fill="none"/>
<polygon points="604.27,123.75 607.15,128.50 601.40,128.50" fill="#fff" stroke="#fff" stroke-width="2.65"/>
<polygon points="604.27,123.75 607.15,128.50 601.40,128.50" fill="#fff" stroke="#3b6caf" stroke-width="1.25"/>
<path d="M604.27,125.12V127.88M602.90,125.12H605.65M602.90,127.88H605.65" stroke="#3b6caf" stroke-width="0.9" fill="none"/>
<polygon points="625.11,109.45 627.98,114.20 622.23,114.20" fill="#fff" stroke="#fff" stroke-width="2.65"/>
<polygon points="625.11,109.45 627.98,114.20 622.23,114.20" fill="#fff" stroke="#3b6caf" stroke-width="1.25"/>
<path d="M625.11,110.83V113.58M623.73,110.83H626.48M623.73,113.58H626.48" stroke="#3b6caf" stroke-width="0.9" fill="none"/>
<polygon points="645.94,89.85 648.81,94.60 643.06,94.60" fill="#fff" stroke="#fff" stroke-width="2.65"/>
<polygon points="645.94,89.85 648.81,94.60 643.06,94.60" fill="#fff" stroke="#3b6caf" stroke-width="1.25"/>
<path d="M645.94,91.22V93.97M644.56,91.22H647.31M644.56,93.97H647.31" stroke="#3b6caf" stroke-width="0.9" fill="none"/>
<polygon points="666.77,76.75 669.64,81.50 663.89,81.50" fill="#fff" stroke="#fff" stroke-width="2.65"/>
<polygon points="666.77,76.75 669.64,81.50 663.89,81.50" fill="#fff" stroke="#3b6caf" stroke-width="1.25"/>
<path d="M666.77,78.12V80.88M665.39,78.12H668.14M665.39,80.88H668.14" stroke="#3b6caf" stroke-width="0.9" fill="none"/>
<line x1="645.94" y1="87.60" x2="645.94" y2="97.90" stroke="#3b6caf" stroke-width="1.2" />
<line x1="643.74" y1="87.60" x2="648.14" y2="87.60" stroke="#3b6caf" stroke-width="1.2" />
<line x1="643.74" y1="97.90" x2="648.14" y2="97.90" stroke="#3b6caf" stroke-width="1.2" />
<line x1="666.77" y1="76.40" x2="666.77" y2="82.10" stroke="#3b6caf" stroke-width="1.2" />
<line x1="664.57" y1="76.40" x2="668.97" y2="76.40" stroke="#3b6caf" stroke-width="1.2" />
<line x1="664.57" y1="82.10" x2="668.97" y2="82.10" stroke="#3b6caf" stroke-width="1.2" />
<polygon points="645.94,89.85 648.81,94.60 643.06,94.60" fill="#fff" stroke="#3b6caf" stroke-width="1.5"/>
<path d="M645.94,91.22V93.97M644.56,91.22H647.31M644.56,93.97H647.31" stroke="#3b6caf" stroke-width="0.9" fill="none"/>
<polygon points="666.77,76.75 669.64,81.50 663.89,81.50" fill="#fff" stroke="#3b6caf" stroke-width="1.5"/>
<path d="M666.77,78.12V80.88M665.39,78.12H668.14M665.39,80.88H668.14" stroke="#3b6caf" stroke-width="0.9" fill="none"/>
<polyline points="501.00,152.80 520.95,152.30 541.78,150.50 562.61,144.10 583.44,134.60 604.27,115.70 625.11,99.90 645.94,80.60 666.77,10.00" fill="none" stroke="#fbba1c" stroke-width="1.1" stroke-linejoin="round"/>
<polygon points="520.95,154.83 523.59,150.46 518.30,150.46" fill="#fff" stroke="#fff" stroke-width="2.65"/>
<polygon points="520.95,154.83 523.59,150.46 518.30,150.46" fill="#fff" stroke="#fbba1c" stroke-width="1.25"/>
<path d="M520.95,151.04V153.56M519.68,151.04H522.21M519.68,153.56H522.21" stroke="#fbba1c" stroke-width="0.9" fill="none"/>
<polygon points="541.78,153.03 544.43,148.66 539.14,148.66" fill="#fff" stroke="#fff" stroke-width="2.65"/>
<polygon points="541.78,153.03 544.43,148.66 539.14,148.66" fill="#fff" stroke="#fbba1c" stroke-width="1.25"/>
<path d="M541.78,149.24V151.76M540.52,149.24H543.05M540.52,151.76H543.05" stroke="#fbba1c" stroke-width="0.9" fill="none"/>
<polygon points="562.61,146.63 565.26,142.26 559.97,142.26" fill="#fff" stroke="#fff" stroke-width="2.65"/>
<polygon points="562.61,146.63 565.26,142.26 559.97,142.26" fill="#fff" stroke="#fbba1c" stroke-width="1.25"/>
<path d="M562.61,142.84V145.36M561.35,142.84H563.88M561.35,145.36H563.88" stroke="#fbba1c" stroke-width="0.9" fill="none"/>
<polygon points="583.44,137.13 586.09,132.76 580.80,132.76" fill="#fff" stroke="#fff" stroke-width="2.65"/>
<polygon points="583.44,137.13 586.09,132.76 580.80,132.76" fill="#fff" stroke="#fbba1c" stroke-width="1.25"/>
<path d="M583.44,133.34V135.86M582.18,133.34H584.71M582.18,135.86H584.71" stroke="#fbba1c" stroke-width="0.9" fill="none"/>
<polygon points="604.27,118.23 606.92,113.86 601.63,113.86" fill="#fff" stroke="#fff" stroke-width="2.65"/>
<polygon points="604.27,118.23 606.92,113.86 601.63,113.86" fill="#fff" stroke="#fbba1c" stroke-width="1.25"/>
<path d="M604.27,114.44V116.97M603.01,114.44H605.54M603.01,116.97H605.54" stroke="#fbba1c" stroke-width="0.9" fill="none"/>
<polygon points="625.11,102.43 627.75,98.06 622.46,98.06" fill="#fff" stroke="#fff" stroke-width="2.65"/>
<polygon points="625.11,102.43 627.75,98.06 622.46,98.06" fill="#fff" stroke="#fbba1c" stroke-width="1.25"/>
<path d="M625.11,98.64V101.17M623.84,98.64H626.37M623.84,101.17H626.37" stroke="#fbba1c" stroke-width="0.9" fill="none"/>
<polygon points="645.94,83.13 648.58,78.76 643.29,78.76" fill="#fff" stroke="#fff" stroke-width="2.65"/>
<polygon points="645.94,83.13 648.58,78.76 643.29,78.76" fill="#fff" stroke="#fbba1c" stroke-width="1.25"/>
<path d="M645.94,79.33V81.86M644.67,79.33H647.20M644.67,81.86H647.20" stroke="#fbba1c" stroke-width="0.9" fill="none"/>
<polygon points="666.77,12.53 669.41,8.16 664.12,8.16" fill="#fff" stroke="#fff" stroke-width="2.65"/>
<polygon points="666.77,12.53 669.41,8.16 664.12,8.16" fill="#fff" stroke="#fbba1c" stroke-width="1.25"/>
<path d="M666.77,8.73V11.27M665.50,8.73H668.03M665.50,11.27H668.03" stroke="#fbba1c" stroke-width="0.9" fill="none"/>
<polyline points="501.00,150.70 520.95,149.20 541.78,148.70 562.61,145.10 583.44,138.20 604.27,129.60 625.11,121.40 645.94,112.80 666.77,99.90" fill="none" stroke="#3dbd68" stroke-width="1.1" stroke-linejoin="round"/>
<polygon points="520.95,146.32 523.82,149.20 520.95,152.07 518.07,149.20" fill="#fff" stroke="#fff" stroke-width="2.65"/>
<polygon points="520.95,146.32 523.82,149.20 520.95,152.07 518.07,149.20" fill="#fff" stroke="#3dbd68" stroke-width="1.25"/>
<path d="M520.95,147.82V150.57M519.57,147.82H522.32M519.57,150.57H522.32" stroke="#3dbd68" stroke-width="0.9" fill="none"/>
<polygon points="541.78,145.82 544.66,148.70 541.78,151.57 538.91,148.70" fill="#fff" stroke="#fff" stroke-width="2.65"/>
<polygon points="541.78,145.82 544.66,148.70 541.78,151.57 538.91,148.70" fill="#fff" stroke="#3dbd68" stroke-width="1.25"/>
<path d="M541.78,147.32V150.07M540.41,147.32H543.16M540.41,150.07H543.16" stroke="#3dbd68" stroke-width="0.9" fill="none"/>
<polygon points="562.61,142.22 565.49,145.10 562.61,147.97 559.74,145.10" fill="#fff" stroke="#fff" stroke-width="2.65"/>
<polygon points="562.61,142.22 565.49,145.10 562.61,147.97 559.74,145.10" fill="#fff" stroke="#3dbd68" stroke-width="1.25"/>
<path d="M562.61,143.72V146.47M561.24,143.72H563.99M561.24,146.47H563.99" stroke="#3dbd68" stroke-width="0.9" fill="none"/>
<polygon points="583.44,135.32 586.32,138.20 583.44,141.07 580.57,138.20" fill="#fff" stroke="#fff" stroke-width="2.65"/>
<polygon points="583.44,135.32 586.32,138.20 583.44,141.07 580.57,138.20" fill="#fff" stroke="#3dbd68" stroke-width="1.25"/>
<path d="M583.44,136.82V139.57M582.07,136.82H584.82M582.07,139.57H584.82" stroke="#3dbd68" stroke-width="0.9" fill="none"/>
<polygon points="604.27,126.72 607.15,129.60 604.27,132.47 601.40,129.60" fill="#fff" stroke="#fff" stroke-width="2.65"/>
<polygon points="604.27,126.72 607.15,129.60 604.27,132.47 601.40,129.60" fill="#fff" stroke="#3dbd68" stroke-width="1.25"/>
<path d="M604.27,128.22V130.97M602.90,128.22H605.65M602.90,130.97H605.65" stroke="#3dbd68" stroke-width="0.9" fill="none"/>
<polygon points="625.11,118.53 627.98,121.40 625.11,124.28 622.23,121.40" fill="#fff" stroke="#fff" stroke-width="2.65"/>
<polygon points="625.11,118.53 627.98,121.40 625.11,124.28 622.23,121.40" fill="#fff" stroke="#3dbd68" stroke-width="1.25"/>
<path d="M625.11,120.03V122.78M623.73,120.03H626.48M623.73,122.78H626.48" stroke="#3dbd68" stroke-width="0.9" fill="none"/>
<polygon points="645.94,109.92 648.81,112.80 645.94,115.67 643.06,112.80" fill="#fff" stroke="#fff" stroke-width="2.65"/>
<polygon points="645.94,109.92 648.81,112.80 645.94,115.67 643.06,112.80" fill="#fff" stroke="#3dbd68" stroke-width="1.25"/>
<path d="M645.94,111.42V114.17M644.56,111.42H647.31M644.56,114.17H647.31" stroke="#3dbd68" stroke-width="0.9" fill="none"/>
<polygon points="666.77,97.03 669.64,99.90 666.77,102.78 663.89,99.90" fill="#fff" stroke="#fff" stroke-width="2.65"/>
<polygon points="666.77,97.03 669.64,99.90 666.77,102.78 663.89,99.90" fill="#fff" stroke="#3dbd68" stroke-width="1.25"/>
<path d="M666.77,98.53V101.28M665.39,98.53H668.14M665.39,101.28H668.14" stroke="#3dbd68" stroke-width="0.9" fill="none"/>
<line x1="42.20" y1="211.50" x2="454.20" y2="211.50" stroke="#1a1a1a" stroke-width="1.2" />
<line x1="42.20" y1="374.20" x2="454.20" y2="374.20" stroke="#1a1a1a" stroke-width="1.4" />
<line x1="454.20" y1="211.50" x2="454.20" y2="374.20" stroke="#1a1a1a" stroke-width="1.2" />
<line x1="42.20" y1="211.50" x2="42.20" y2="374.20" stroke="#1a1a1a" stroke-width="1.4" />
<line x1="38.80" y1="344.20" x2="42.20" y2="344.20" stroke="#1a1a1a" stroke-width="1.3" />
<text x="37.60" y="348.20" font-family="Liberation Sans" font-weight="bold" font-size="11.9" text-anchor="end" fill="#000" stroke="#000" stroke-width="0.35" >250</text>
<line x1="38.80" y1="314.20" x2="42.20" y2="314.20" stroke="#1a1a1a" stroke-width="1.3" />
<text x="37.60" y="318.20" font-family="Liberation Sans" font-weight="bold" font-size="11.9" text-anchor="end" fill="#000" stroke="#000" stroke-width="0.35" >500</text>
<line x1="38.80" y1="284.20" x2="42.20" y2="284.20" stroke="#1a1a1a" stroke-width="1.3" />
<text x="37.60" y="288.20" font-family="Liberation Sans" font-weight="bold" font-size="11.9" text-anchor="end" fill="#000" stroke="#000" stroke-width="0.35" >750</text>
<line x1="38.80" y1="254.32" x2="42.20" y2="254.32" stroke="#1a1a1a" stroke-width="1.3" />
<text x="37.60" y="258.32" font-family="Liberation Sans" font-weight="bold" font-size="11.9" text-anchor="end" fill="#000" stroke="#000" stroke-width="0.35" >999</text>
<text x="14.60" y="292.20" font-family="Liberation Sans" font-weight="bold" font-size="11.85" text-anchor="middle" fill="#000" stroke="#000" stroke-width="0.35" transform="rotate(-90 14.6 292.2)">ACT (sec)</text>
<text x="7.00" y="230.00" font-family="Liberation Sans" font-weight="bold" font-size="22" text-anchor="start" fill="#000" stroke="#000" stroke-width="0.35" >d</text>
<rect x="48.35" y="358.60" width="29" height="15.60" fill="#fff"/>
<line x1="62.85" y1="374.20" x2="62.85" y2="377.80" stroke="#1a1a1a" stroke-width="1.4" />
<text x="62.85" y="388.80" font-family="Liberation Sans" font-weight="bold" font-size="11.9" text-anchor="middle" fill="#000" stroke="#000" stroke-width="0.35" >(1)</text>
<rect x="89.58" y="359.20" width="29" height="15.00" fill="#fff"/>
<line x1="104.08" y1="374.20" x2="104.08" y2="377.80" stroke="#1a1a1a" stroke-width="1.4" />
<text x="104.08" y="388.80" font-family="Liberation Sans" font-weight="bold" font-size="11.9" text-anchor="middle" fill="#000" stroke="#000" stroke-width="0.35" >(2)</text>
<rect x="130.81" y="333.20" width="29" height="41.00" fill="#fff"/>
<line x1="145.31" y1="374.20" x2="145.31" y2="377.80" stroke="#1a1a1a" stroke-width="1.4" />
<text x="145.31" y="388.80" font-family="Liberation Sans" font-weight="bold" font-size="11.9" text-anchor="middle" fill="#000" stroke="#000" stroke-width="0.35" >(3)</text>
<rect x="172.04" y="334.30" width="29" height="39.90" fill="#fff"/>
<line x1="186.54" y1="374.20" x2="186.54" y2="377.80" stroke="#1a1a1a" stroke-width="1.4" />
<text x="186.54" y="388.80" font-family="Liberation Sans" font-weight="bold" font-size="11.9" text-anchor="middle" fill="#000" stroke="#000" stroke-width="0.35" >(4)</text>
<rect x="213.27" y="351.00" width="29" height="23.20" fill="#fff"/>
<line x1="227.77" y1="374.20" x2="227.77" y2="377.80" stroke="#1a1a1a" stroke-width="1.4" />
<text x="227.77" y="388.80" font-family="Liberation Sans" font-weight="bold" font-size="11.9" text-anchor="middle" fill="#000" stroke="#000" stroke-width="0.35" >(5)</text>
<rect x="254.50" y="342.50" width="29" height="31.70" fill="#fff"/>
<line x1="269.00" y1="374.20" x2="269.00" y2="377.80" stroke="#1a1a1a" stroke-width="1.4" />
<text x="269.00" y="388.80" font-family="Liberation Sans" font-weight="bold" font-size="11.9" text-anchor="middle" fill="#000" stroke="#000" stroke-width="0.35" >(6)</text>
<rect x="295.73" y="299.20" width="29" height="75.00" fill="#fff"/>
<line x1="310.23" y1="374.20" x2="310.23" y2="377.80" stroke="#1a1a1a" stroke-width="1.4" />
<text x="310.23" y="388.80" font-family="Liberation Sans" font-weight="bold" font-size="11.9" text-anchor="middle" fill="#000" stroke="#000" stroke-width="0.35" >(7)</text>
<rect x="336.96" y="260.10" width="29" height="114.10" fill="#fff"/>
<line x1="351.46" y1="374.20" x2="351.46" y2="377.80" stroke="#1a1a1a" stroke-width="1.4" />
<text x="351.46" y="388.80" font-family="Liberation Sans" font-weight="bold" font-size="11.9" text-anchor="middle" fill="#000" stroke="#000" stroke-width="0.35" >(8)</text>
<rect x="378.19" y="315.80" width="29" height="58.40" fill="#fff"/>
<line x1="392.69" y1="374.20" x2="392.69" y2="377.80" stroke="#1a1a1a" stroke-width="1.4" />
<text x="392.69" y="388.80" font-family="Liberation Sans" font-weight="bold" font-size="11.9" text-anchor="middle" fill="#000" stroke="#000" stroke-width="0.35" >(9)</text>
<rect x="419.42" y="351.50" width="29" height="22.70" fill="#fff"/>
<line x1="433.92" y1="374.20" x2="433.92" y2="377.80" stroke="#1a1a1a" stroke-width="1.4" />
<text x="433.92" y="388.80" font-family="Liberation Sans" font-weight="bold" font-size="11.9" text-anchor="middle" fill="#000" stroke="#000" stroke-width="0.35" >(10)</text>
<polygon points="54.10,355.20 56.50,357.60 54.10,360.00 51.70,357.60" fill="#f31a1a"/>
<polygon points="58.40,355.60 60.80,358.00 58.40,360.40 56.00,358.00" fill="#f31a1a"/>
<polygon points="62.50,358.60 64.90,361.00 62.50,363.40 60.10,361.00" fill="#f31a1a"/>
<polygon points="66.60,357.60 69.00,360.00 66.60,362.40 64.20,360.00" fill="#f31a1a"/>
<polygon points="70.90,354.60 73.30,357.00 70.90,359.40 68.50,357.00" fill="#f31a1a"/>
<rect x="48.35" y="358.60" width="29" height="15.60" fill="none" stroke="#2a2a2a" stroke-width="1.35"/>
<line x1="62.85" y1="357.80" x2="62.85" y2="359.60" stroke="#111" stroke-width="1.3" />
<line x1="59.55" y1="357.80" x2="66.15" y2="357.80" stroke="#111" stroke-width="1.3" />
<line x1="59.55" y1="359.60" x2="66.15" y2="359.60" stroke="#111" stroke-width="1.3" />
<polygon points="95.50,356.50 97.90,358.90 95.50,361.30 93.10,358.90" fill="#f31a1a"/>
<polygon points="99.30,357.10 101.70,359.50 99.30,361.90 96.90,359.50" fill="#f31a1a"/>
<polygon points="103.70,358.10 106.10,360.50 103.70,362.90 101.30,360.50" fill="#f31a1a"/>
<polygon points="108.10,357.60 110.50,360.00 108.10,362.40 105.70,360.00" fill="#f31a1a"/>
<polygon points="112.20,355.10 114.60,357.50 112.20,359.90 109.80,357.50" fill="#f31a1a"/>
<rect x="89.58" y="359.20" width="29" height="15.00" fill="none" stroke="#2a2a2a" stroke-width="1.35"/>
<line x1="104.08" y1="358.60" x2="104.08" y2="359.80" stroke="#111" stroke-width="1.3" />
<line x1="100.78" y1="358.60" x2="107.38" y2="358.60" stroke="#111" stroke-width="1.3" />
<line x1="100.78" y1="359.80" x2="107.38" y2="359.80" stroke="#111" stroke-width="1.3" />
<polygon points="140.80,327.80 143.20,330.20 140.80,332.60 138.40,330.20" fill="#f31a1a"/>
<polygon points="136.70,332.50 139.10,334.90 136.70,337.30 134.30,334.90" fill="#f31a1a"/>
<polygon points="145.10,329.10 147.50,331.50 145.10,333.90 142.70,331.50" fill="#f31a1a"/>
<polygon points="153.30,330.50 155.70,332.90 153.30,335.30 150.90,332.90" fill="#f31a1a"/>
<polygon points="149.30,335.00 151.70,337.40 149.30,339.80 146.90,337.40" fill="#f31a1a"/>
<rect x="130.81" y="333.20" width="29" height="41.00" fill="none" stroke="#2a2a2a" stroke-width="1.35"/>
<line x1="145.31" y1="330.00" x2="145.31" y2="336.40" stroke="#111" stroke-width="1.3" />
<line x1="142.01" y1="330.00" x2="148.61" y2="330.00" stroke="#111" stroke-width="1.3" />
<line x1="142.01" y1="336.40" x2="148.61" y2="336.40" stroke="#111" stroke-width="1.3" />
<polygon points="178.50,329.60 180.90,332.00 178.50,334.40 176.10,332.00" fill="#f31a1a"/>
<polygon points="183.40,327.10 185.80,329.50 183.40,331.90 181.00,329.50" fill="#f31a1a"/>
<polygon points="189.00,328.10 191.40,330.50 189.00,332.90 186.60,330.50" fill="#f31a1a"/>
<polygon points="193.90,335.40 196.30,337.80 193.90,340.20 191.50,337.80" fill="#f31a1a"/>
<polygon points="186.30,338.90 188.70,341.30 186.30,343.70 183.90,341.30" fill="#f31a1a"/>
<rect x="172.04" y="334.30" width="29" height="39.90" fill="none" stroke="#2a2a2a" stroke-width="1.35"/>
<line x1="186.54" y1="328.10" x2="186.54" y2="339.90" stroke="#111" stroke-width="1.3" />
<line x1="183.24" y1="328.10" x2="189.84" y2="328.10" stroke="#111" stroke-width="1.3" />
<line x1="183.24" y1="339.90" x2="189.84" y2="339.90" stroke="#111" stroke-width="1.3" />
<polygon points="220.40,351.00 222.80,353.40 220.40,355.80 218.00,353.40" fill="#f31a1a"/>
<polygon points="223.80,347.70 226.20,350.10 223.80,352.50 221.40,350.10" fill="#f31a1a"/>
<polygon points="231.10,344.90 233.50,347.30 231.10,349.70 228.70,347.30" fill="#f31a1a"/>
<polygon points="234.60,349.90 237.00,352.30 234.60,354.70 232.20,352.30" fill="#f31a1a"/>
<polygon points="228.00,349.60 230.40,352.00 228.00,354.40 225.60,352.00" fill="#f31a1a"/>
<rect x="213.27" y="351.00" width="29" height="23.20" fill="none" stroke="#2a2a2a" stroke-width="1.35"/>
<line x1="227.77" y1="348.40" x2="227.77" y2="353.80" stroke="#111" stroke-width="1.3" />
<line x1="224.47" y1="348.40" x2="231.07" y2="348.40" stroke="#111" stroke-width="1.3" />
<line x1="224.47" y1="353.80" x2="231.07" y2="353.80" stroke="#111" stroke-width="1.3" />
<polygon points="268.40,332.80 270.80,335.20 268.40,337.60 266.00,335.20" fill="#f31a1a"/>
<polygon points="271.50,337.20 273.90,339.60 271.50,342.00 269.10,339.60" fill="#f31a1a"/>
<polygon points="260.70,341.10 263.10,343.50 260.70,345.90 258.30,343.50" fill="#f31a1a"/>
<polygon points="276.70,342.60 279.10,345.00 276.70,347.40 274.30,345.00" fill="#f31a1a"/>
<polygon points="265.80,347.80 268.20,350.20 265.80,352.60 263.40,350.20" fill="#f31a1a"/>
<rect x="254.50" y="342.50" width="29" height="31.70" fill="none" stroke="#2a2a2a" stroke-width="1.35"/>
<line x1="269.00" y1="336.50" x2="269.00" y2="348.90" stroke="#111" stroke-width="1.3" />
<line x1="265.70" y1="336.50" x2="272.30" y2="336.50" stroke="#111" stroke-width="1.3" />
<line x1="265.70" y1="348.90" x2="272.30" y2="348.90" stroke="#111" stroke-width="1.3" />
<polygon points="304.80,270.30 307.20,272.70 304.80,275.10 302.40,272.70" fill="#f31a1a"/>
<polygon points="315.00,269.00 317.40,271.40 315.00,273.80 312.60,271.40" fill="#f31a1a"/>
<polygon points="309.90,303.60 312.30,306.00 309.90,308.40 307.50,306.00" fill="#f31a1a"/>
<polygon points="309.90,313.50 312.30,315.90 309.90,318.30 307.50,315.90" fill="#f31a1a"/>
<polygon points="309.90,326.60 312.30,329.00 309.90,331.40 307.50,329.00" fill="#f31a1a"/>
<rect x="295.73" y="299.20" width="29" height="75.00" fill="none" stroke="#2a2a2a" stroke-width="1.35"/>
<line x1="310.23" y1="269.40" x2="310.23" y2="329.00" stroke="#111" stroke-width="1.3" />
<line x1="306.93" y1="269.40" x2="313.53" y2="269.40" stroke="#111" stroke-width="1.3" />
<line x1="306.93" y1="329.00" x2="313.53" y2="329.00" stroke="#111" stroke-width="1.3" />
<polygon points="344.20,251.40 346.60,253.80 344.20,256.20 341.80,253.80" fill="#f31a1a"/>
<polygon points="351.30,251.40 353.70,253.80 351.30,256.20 348.90,253.80" fill="#f31a1a"/>
<polygon points="357.80,251.40 360.20,253.80 357.80,256.20 355.40,253.80" fill="#f31a1a"/>
<polygon points="354.40,263.90 356.80,266.30 354.40,268.70 352.00,266.30" fill="#f31a1a"/>
<polygon points="347.50,271.60 349.90,274.00 347.50,276.40 345.10,274.00" fill="#f31a1a"/>
<rect x="336.96" y="260.10" width="29" height="114.10" fill="none" stroke="#2a2a2a" stroke-width="1.35"/>
<line x1="351.46" y1="250.70" x2="351.46" y2="270.20" stroke="#111" stroke-width="1.3" />
<line x1="348.16" y1="250.70" x2="354.76" y2="250.70" stroke="#111" stroke-width="1.3" />
<line x1="348.16" y1="270.20" x2="354.76" y2="270.20" stroke="#111" stroke-width="1.3" />
<polygon points="388.90,305.60 391.30,308.00 388.90,310.40 386.50,308.00" fill="#f31a1a"/>
<polygon points="396.10,307.70 398.50,310.10 396.10,312.50 393.70,310.10" fill="#f31a1a"/>
<polygon points="392.30,315.50 394.70,317.90 392.30,320.30 389.90,317.90" fill="#f31a1a"/>
<polygon points="399.20,316.00 401.60,318.40 399.20,320.80 396.80,318.40" fill="#f31a1a"/>
<polygon points="385.00,322.50 387.40,324.90 385.00,327.30 382.60,324.90" fill="#f31a1a"/>
<rect x="378.19" y="315.80" width="29" height="58.40" fill="none" stroke="#2a2a2a" stroke-width="1.35"/>
<line x1="392.69" y1="308.60" x2="392.69" y2="323.00" stroke="#111" stroke-width="1.3" />
<line x1="389.39" y1="308.60" x2="395.99" y2="308.60" stroke="#111" stroke-width="1.3" />
<line x1="389.39" y1="323.00" x2="395.99" y2="323.00" stroke="#111" stroke-width="1.3" />
<polygon points="426.60,351.60 429.00,354.00 426.60,356.40 424.20,354.00" fill="#f31a1a"/>
<polygon points="431.00,348.30 433.40,350.70 431.00,353.10 428.60,350.70" fill="#f31a1a"/>
<polygon points="437.50,346.50 439.90,348.90 437.50,351.30 435.10,348.90" fill="#f31a1a"/>
<polygon points="440.60,349.60 443.00,352.00 440.60,354.40 438.20,352.00" fill="#f31a1a"/>
<polygon points="434.00,349.10 436.40,351.50 434.00,353.90 431.60,351.50" fill="#f31a1a"/>
<rect x="419.42" y="351.50" width="29" height="22.70" fill="none" stroke="#2a2a2a" stroke-width="1.35"/>
<line x1="433.92" y1="349.90" x2="433.92" y2="353.30" stroke="#111" stroke-width="1.3" />
<line x1="430.62" y1="349.90" x2="437.22" y2="349.90" stroke="#111" stroke-width="1.3" />
<line x1="430.62" y1="353.30" x2="437.22" y2="353.30" stroke="#111" stroke-width="1.3" />
<text x="145.20" y="333.14" font-family="Liberation Sans" font-weight="bold" font-size="14" text-anchor="middle" fill="#000" stroke="#000" stroke-width="0.15" >*</text>
<text x="186.30" y="333.14" font-family="Liberation Sans" font-weight="bold" font-size="14" text-anchor="middle" fill="#000" stroke="#000" stroke-width="0.15" >*</text>
<text x="268.70" y="337.04" font-family="Liberation Sans" font-weight="bold" font-size="14" text-anchor="middle" fill="#000" stroke="#000" stroke-width="0.15" >*</text>
<text x="309.90" y="272.64" font-family="Liberation Sans" font-weight="bold" font-size="14" text-anchor="middle" fill="#000" stroke="#000" stroke-width="0.15" >*</text>
<text x="351.30" y="254.24" font-family="Liberation Sans" font-weight="bold" font-size="14" text-anchor="middle" fill="#000" stroke="#000" stroke-width="0.15" >*</text>
<text x="392.00" y="311.24" font-family="Liberation Sans" font-weight="bold" font-size="14" text-anchor="middle" fill="#000" stroke="#000" stroke-width="0.15" >*</text>
<text x="228.00" y="260.04" font-family="Liberation Sans" font-weight="bold" font-size="14" text-anchor="middle" fill="#000" stroke="#000" stroke-width="0.15" >*</text>
<text x="351.40" y="225.74" font-family="Liberation Sans" font-weight="bold" font-size="14" text-anchor="middle" fill="#000" stroke="#000" stroke-width="0.15" >*</text>
<text x="370.60" y="238.04" font-family="Liberation Sans" font-weight="bold" font-size="14" text-anchor="middle" fill="#000" stroke="#000" stroke-width="0.15" >*</text>
<text x="105.90" y="355.30" font-family="Liberation Sans" font-weight="bold" font-size="9.1" text-anchor="middle" fill="#000" stroke="#000" stroke-width="0.35" >ns</text>
<text x="228.40" y="343.70" font-family="Liberation Sans" font-weight="bold" font-size="9.1" text-anchor="middle" fill="#000" stroke="#000" stroke-width="0.35" >ns</text>
<text x="434.00" y="346.20" font-family="Liberation Sans" font-weight="bold" font-size="9.1" text-anchor="middle" fill="#000" stroke="#000" stroke-width="0.35" >ns</text>
<path d="M89.3,316.6H199.6" fill="none" stroke="#2e2e2e" stroke-width="1.4" stroke-linejoin="miter" stroke-linecap="butt"/>
<path d="M89.3,314.4V318.8" fill="none" stroke="#2e2e2e" stroke-width="1.1" stroke-linejoin="miter" stroke-linecap="butt"/>
<path d="M199.6,314.4V318.8" fill="none" stroke="#2e2e2e" stroke-width="1.1" stroke-linejoin="miter" stroke-linecap="butt"/>
<path d="M145.4,316.6V257.7H310.3V261.9" fill="none" stroke="#2e2e2e" stroke-width="1.4" stroke-linejoin="miter" stroke-linecap="butt"/>
<path d="M310.3,257.7V223H392.2V299" fill="none" stroke="#2e2e2e" stroke-width="1.4" stroke-linejoin="miter" stroke-linecap="butt"/>
<path d="M351.3,242.2V236.6H392.2" fill="none" stroke="#2e2e2e" stroke-width="1.4" stroke-linejoin="miter" stroke-linecap="butt"/>
<text x="472.50" y="219.30" font-family="Liberation Sans" font-weight="bold" font-size="11.7" text-anchor="start" fill="#000" stroke="#000" stroke-width="0.35" >(1) Ctrl</text>
<text x="472.50" y="234.68" font-family="Liberation Sans" font-weight="bold" font-size="11.7" text-anchor="start" fill="#000" stroke="#000" stroke-width="0.35" >(2) HD22 (1 <tspan font-weight="normal">µ</tspan>M)</text>
<text x="472.50" y="250.06" font-family="Liberation Sans" font-weight="bold" font-size="11.7" text-anchor="start" fill="#000" stroke="#000" stroke-width="0.35" >(3) DAB (1 <tspan font-weight="normal">µ</tspan>M)</text>
<text x="472.50" y="265.44" font-family="Liberation Sans" font-weight="bold" font-size="11.7" text-anchor="start" fill="#000" stroke="#000" stroke-width="0.35" >(4) HD22 + DAB (1 <tspan font-weight="normal">µ</tspan>M)</text>
<text x="472.50" y="280.82" font-family="Liberation Sans" font-weight="bold" font-size="11.7" text-anchor="start" fill="#000" stroke="#000" stroke-width="0.35" >(5) HD22-7A-DAB (250 nM)</text>
<text x="472.50" y="296.20" font-family="Liberation Sans" font-weight="bold" font-size="11.7" text-anchor="start" fill="#000" stroke="#000" stroke-width="0.35" >(6) HD22-7A-DAB (500 nM)</text>
<text x="472.50" y="311.58" font-family="Liberation Sans" font-weight="bold" font-size="11.7" text-anchor="start" fill="#000" stroke="#000" stroke-width="0.35" >(7) HD22-7A-DAB (1 <tspan font-weight="normal">µ</tspan>M)</text>
<text x="472.50" y="326.96" font-family="Liberation Sans" font-weight="bold" font-size="11.7" text-anchor="start" fill="#000" stroke="#000" stroke-width="0.35" >(8) HD22-7A-DAB (2 <tspan font-weight="normal">µ</tspan>M)</text>
<text x="472.50" y="342.34" font-family="Liberation Sans" font-weight="bold" font-size="11.7" text-anchor="start" fill="#000" stroke="#000" stroke-width="0.35" >(9) UFH (5U/mL)</text>
<text x="472.50" y="357.72" font-family="Liberation Sans" font-weight="bold" font-size="11.7" text-anchor="start" fill="#000" stroke="#000" stroke-width="0.35" >(10) HD22-7A-DAB (1 <tspan font-weight="normal">µ</tspan>M)</text>
<text x="495.40" y="373.40" font-family="Liberation Sans" font-weight="bold" font-size="11.7" text-anchor="start" fill="#000" stroke="#000" stroke-width="0.35" >+ AO2 (2 <tspan font-weight="normal">µ</tspan>M)</text>
</g>
</svg></div></body></html>
